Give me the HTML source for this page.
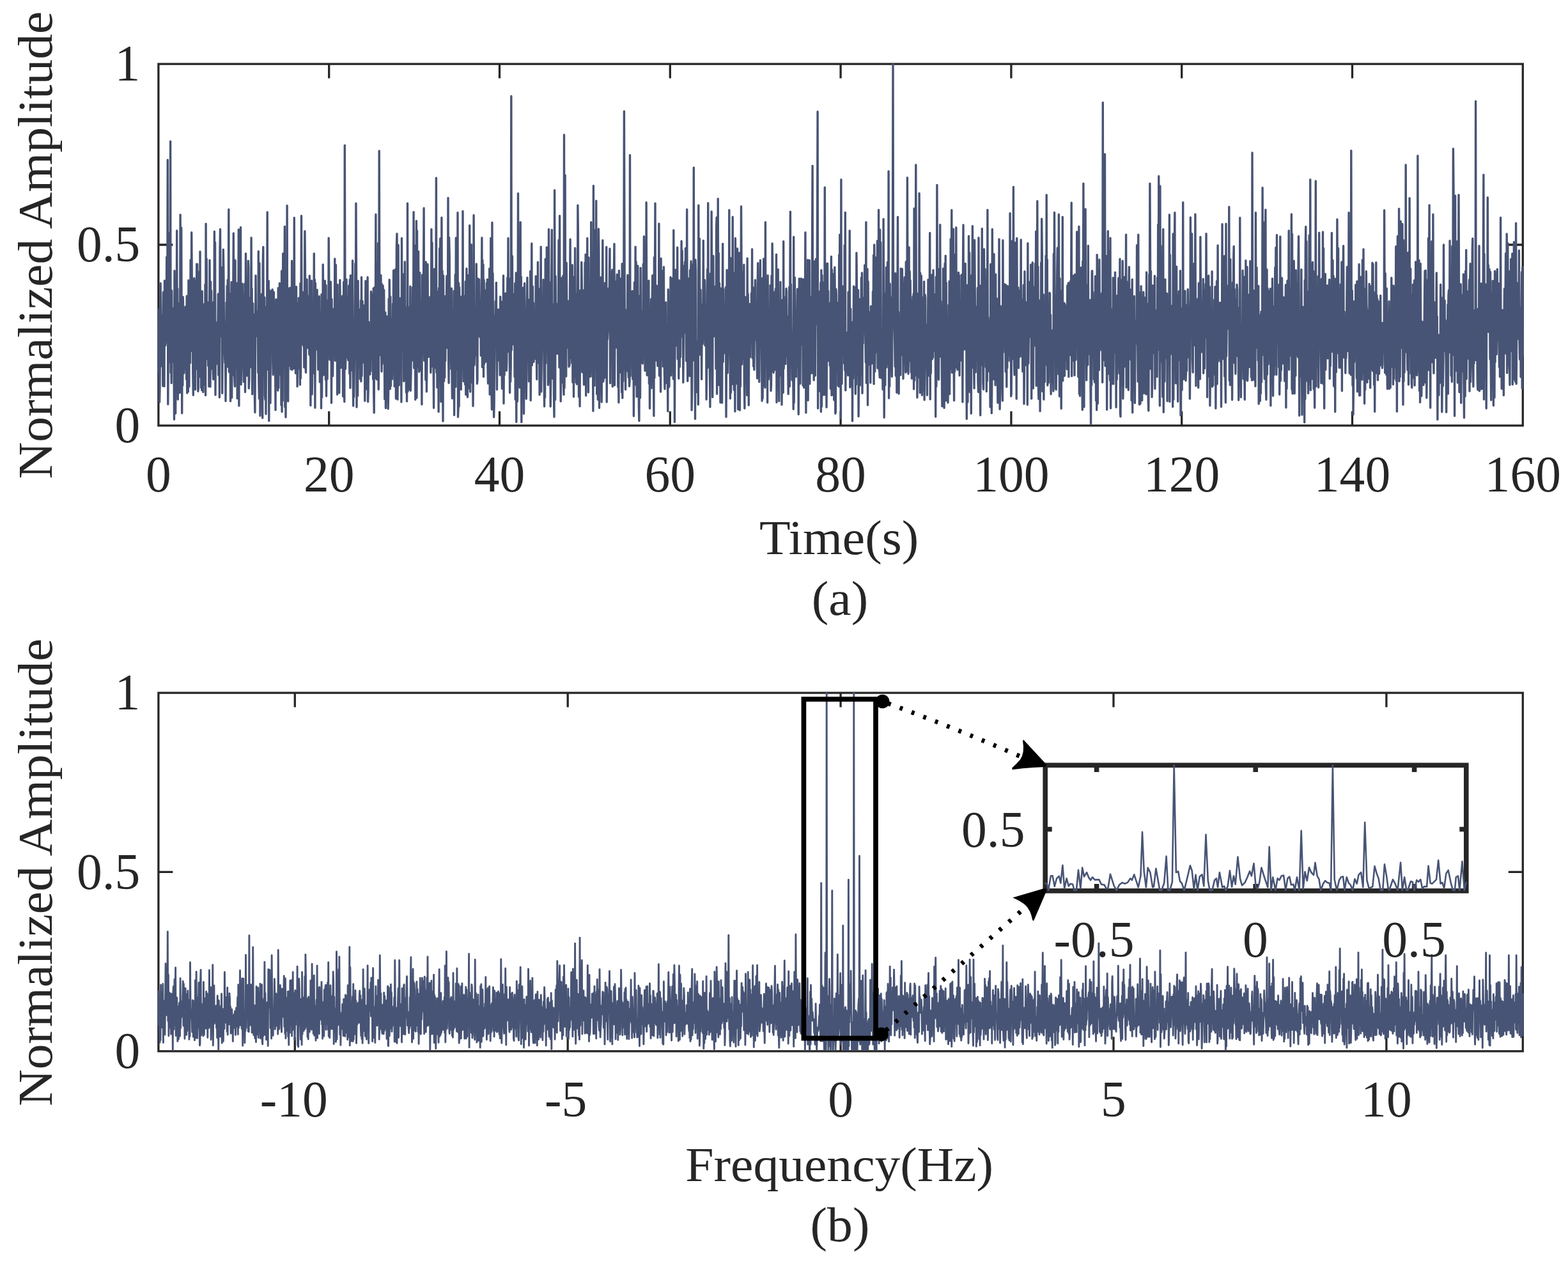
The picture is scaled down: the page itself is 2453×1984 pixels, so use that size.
<!DOCTYPE html>
<html lang="en"><head><meta charset="utf-8"><title>Normalized Amplitude: time signal and spectrum</title>
<style>html,body{margin:0;padding:0;background:#fff}body{width:2453px;height:1984px;overflow:hidden}svg{display:block}text{font-family:"Liberation Serif",serif;font-size:79.6px;fill:#262626}.ax{fill:none;stroke:#262626;stroke-width:3.3;stroke-linecap:butt}.sig{fill:none;stroke:#485475;stroke-width:3.4;stroke-linejoin:round;stroke-linecap:butt}.sb{stroke-width:2.9}.isig{fill:none;stroke:#485475;stroke-width:2.6;stroke-linejoin:round;stroke-linecap:round}.iax{fill:none;stroke:#262626;stroke-width:7.6}.m{text-anchor:middle}.e{text-anchor:end}</style></head><body>
<svg width="2453" height="1984" viewBox="0 0 2453 1984">
<rect width="2453" height="1984" fill="#fff"/>
<g id="plot-a">
<rect class="ax" x="247.9" y="100.1" width="2134.4" height="565.8"/>
<path class="ax" d="M514.7 665.9v-22.5 M514.7 100.1v22.5 M781.5 665.9v-22.5 M781.5 100.1v22.5 M1048.3 665.9v-22.5 M1048.3 100.1v22.5 M1315.1 665.9v-22.5 M1315.1 100.1v22.5 M1581.9 665.9v-22.5 M1581.9 100.1v22.5 M1848.7 665.9v-22.5 M1848.7 100.1v22.5 M2115.5 665.9v-22.5 M2115.5 100.1v22.5 M247.9 383h22.5 M2382.3 383h-22.5"/>
<polyline class="sig" points="247.9,583.5 248.4,539.7 249,483.6 249.5,629.1 250,607.2 250.6,534.5 251.1,443.3 251.6,484.7 252.2,572.9 252.7,521.6 253.2,564.7 253.8,510.6 254.3,492.5 254.8,604 255.4,457.3 255.9,576.5 256.4,464.1 257,604.4 257.5,439.1 258,467 258.6,540.8 259.1,537.7 259.6,528 260.2,501.5 260.7,402.1 261.2,506.5 261.8,468.2 262.3,250.2 262.8,632.6 263.4,545 263.9,486.5 264.4,567 265,364.7 265.5,545.9 266,563.2 266.6,221.2 267.1,583.2 267.6,532.7 268.2,599.4 268.7,454.8 269.2,566.3 269.8,559.8 270.3,482.2 270.9,509 271.4,503.9 271.9,538.3 272.5,656.2 273,423.8 273.5,577 274.1,452 274.6,646.9 275.1,580.6 275.7,507.6 276.2,537.2 276.7,360.9 277.3,583 277.8,451.4 278.3,625.1 278.9,505.5 279.4,531.6 279.9,544.4 280.5,474.7 281,614.5 281.5,571.8 282.1,336 282.6,427.6 283.1,613.7 283.7,356.1 284.2,529.2 284.7,646.5 285.3,480 285.8,603 286.3,464.8 286.9,496.6 287.4,522.5 287.9,583.9 288.5,569.7 289,483.9 289.5,522.5 290.1,480 290.6,575.5 291.1,514.1 291.7,593.8 292.2,463.3 292.7,615 293.3,593.8 293.8,481.4 294.3,612.9 294.9,438.6 295.4,481.5 295.9,605.1 296.5,465.5 297,504.4 297.5,567.9 298.1,406.6 298.6,549.6 299.1,497.2 299.7,363.7 300.2,431.1 300.7,507.5 301.3,437 301.8,583.1 302.3,618.3 302.9,451.2 303.4,517.6 303.9,435.3 304.5,487.4 305,557 305.5,609.6 306.1,439.2 306.6,530.6 307.1,559.1 307.7,413.1 308.2,577.6 308.7,413.2 309.3,503.9 309.8,612.2 310.3,608.3 310.9,425.7 311.4,489.8 311.9,589.5 312.5,523.3 313,393.7 313.5,585.2 314.1,482.5 314.6,606.5 315.2,499.5 315.7,610.5 316.2,455.7 316.8,584.2 317.3,499.9 317.8,613.6 318.4,476.3 318.9,602.2 319.4,563 320,508.9 320.5,570 321,444.9 321.6,618.5 322.1,350.1 322.6,562.3 323.2,404.9 323.7,541.5 324.2,541.7 324.8,487.5 325.3,530.5 325.8,572.4 326.4,472.9 326.9,604.8 327.4,536.5 328,407.1 328.5,511.3 329,605 329.6,440.6 330.1,552.4 330.6,454.7 331.2,577.1 331.7,511.1 332.2,473.2 332.8,493.6 333.3,583.5 333.8,593.6 334.4,539.9 334.9,532.6 335.4,362.2 336,528.5 336.5,379.3 337,617.9 337.6,511.8 338.1,570.3 338.6,549.6 339.2,510.3 339.7,568.4 340.2,503.7 340.8,525.2 341.3,459.9 341.8,587 342.4,516.6 342.9,502 343.4,621.8 344,390.7 344.5,358.6 345,439.6 345.6,526.4 346.1,418.3 346.6,492.3 347.2,477.8 347.7,615.3 348.2,539.6 348.8,537.1 349.3,390.4 349.8,421.8 350.4,502.2 350.9,505 351.4,549.8 352,567.8 352.5,538 353,627.5 353.6,545.7 354.1,473.3 354.6,514.3 355.2,447.3 355.7,573.8 356.2,437.9 356.8,514.7 357.3,498.8 357.8,327.8 358.4,582 358.9,495.9 359.5,459.5 360,524.9 360.5,627.8 361.1,606.1 361.6,488.1 362.1,441.5 362.7,622.3 363.2,463.5 363.7,449.7 364.3,582.9 364.8,456.8 365.3,365 365.9,587.2 366.4,406.4 366.9,594.7 367.5,604.6 368,407.4 368.5,576 369.1,522.9 369.6,462.5 370.1,485.6 370.7,443 371.2,623.4 371.7,478.8 372.3,553.6 372.8,487.8 373.3,359.1 373.9,634.9 374.4,467.5 374.9,551.1 375.5,422.4 376,561.2 376.5,355.8 377.1,601.6 377.6,566.1 378.1,494.7 378.7,484.2 379.2,443.9 379.7,513.4 380.3,461.2 380.8,571.3 381.3,597.4 381.9,520.7 382.4,560 382.9,443.9 383.5,613.4 384,509.8 384.5,396.8 385.1,528.3 385.6,546.9 386.1,582.4 386.7,587.9 387.2,508.6 387.7,494.4 388.3,408.1 388.8,418.2 389.3,607.6 389.9,592.9 390.4,465.7 390.9,564.4 391.5,574.7 392,477.5 392.5,524.2 393.1,371.9 393.6,556.8 394.1,451.8 394.7,616.8 395.2,520.2 395.7,474.8 396.3,584.4 396.8,573.7 397.3,491.9 397.9,523.4 398.4,620 398.9,645.3 399.5,534.6 400,431.1 400.5,502.1 401.1,494.8 401.6,487.8 402.1,510.2 402.7,526.5 403.2,499.9 403.8,583 404.3,393.2 404.8,594.6 405.4,623.6 405.9,411.7 406.4,541 407,650.5 407.5,556 408,463.1 408.6,572.5 409.1,572.5 409.6,460 410.2,607.4 410.7,654.1 411.2,416.2 411.8,386.5 412.3,509.9 412.8,504.7 413.4,586.3 413.9,465.4 414.4,618.5 415,625.2 415.5,541.2 416,647.8 416.6,532.1 417.1,480.3 417.6,518.1 418.2,331.9 418.7,578.2 419.2,469.4 419.8,575.8 420.3,439.7 420.8,658.5 421.4,510.2 421.9,495.9 422.4,482.1 423,630.5 423.5,455 424,470.5 424.6,550 425.1,550.5 425.6,498.5 426.2,453 426.7,564.4 427.2,586.4 427.8,541.8 428.3,456.9 428.8,486.5 429.4,500.8 429.9,504.4 430.4,533.2 431,641.6 431.5,524.8 432,468.5 432.6,604.1 433.1,473.5 433.6,583.8 434.2,492.2 434.7,611 435.2,450.7 435.8,607.1 436.3,526.3 436.8,564.1 437.4,443.3 437.9,585.8 438.4,487.5 439,449.7 439.5,500 440,633.9 440.6,423.9 441.1,644.3 441.6,459.7 442.2,627.1 442.7,396.8 443.2,521.3 443.8,574.7 444.3,451 444.8,502.7 445.4,354.5 445.9,636.9 446.4,505.3 447,652.7 447.5,591.2 448.1,440.1 448.6,604.8 449.1,321.7 449.7,597.3 450.2,465.5 450.7,627.9 451.3,451.1 451.8,473 452.3,572.6 452.9,469.3 453.4,516.7 453.9,450.2 454.5,532.9 455,577.7 455.5,477.9 456.1,573.3 456.6,408.3 457.1,578.5 457.7,436.8 458.2,520.7 458.7,544.5 459.3,451 459.8,576.6 460.3,340.7 460.9,565.2 461.4,500.1 461.9,484.1 462.5,584.1 463,480.8 463.5,448.6 464.1,584.2 464.6,511.7 465.1,604.7 465.7,550.8 466.2,474.6 466.7,576.8 467.3,466.1 467.8,566.1 468.3,489.3 468.9,550 469.4,602.1 469.9,443.4 470.5,591.8 471,483 471.5,337.8 472.1,523.4 472.6,477.9 473.1,538.5 473.7,487.3 474.2,457.2 474.7,541.1 475.3,481.8 475.8,574.7 476.3,498.1 476.9,361.7 477.4,414.9 477.9,572 478.5,582.9 479,504.9 479.5,534.7 480.1,437.1 480.6,500.2 481.1,544.3 481.7,470.4 482.2,542.6 482.7,500.2 483.3,462.9 483.8,555 484.3,431.4 484.9,533.1 485.4,483.1 485.9,634.4 486.5,464.7 487,555.1 487.5,439.1 488.1,616.9 488.6,585 489.1,508.9 489.7,544.4 490.2,583.6 490.7,572.3 491.3,396.8 491.8,584.3 492.3,437.4 492.9,638 493.4,443 494,535.8 494.5,537.8 495,523.8 495.6,502.4 496.1,453.4 496.6,547.8 497.2,521.4 497.7,578.2 498.2,470.8 498.8,576.7 499.3,463.6 499.8,535.4 500.4,597.8 500.9,571.9 501.4,531.5 502,493.5 502.5,638.8 503,460.8 503.6,621.7 504.1,522.8 504.6,587.9 505.2,414 505.7,457.2 506.2,582.5 506.8,540.6 507.3,586.2 507.8,523.6 508.4,439.4 508.9,512.9 509.4,594.2 510,446.5 510.5,619.8 511,542.6 511.6,470.3 512.1,593.1 512.6,483.3 513.2,514.7 513.7,554.3 514.2,372.4 514.8,434.9 515.3,547.5 515.8,562.9 516.4,500.4 516.9,551.6 517.4,440.9 518,487.9 518.5,630.4 519,468.2 519.6,574.5 520.1,511.1 520.6,588.2 521.2,532.5 521.7,483.6 522.2,509.6 522.8,537.8 523.3,552.1 523.8,404.9 524.4,564.2 524.9,461 525.4,414.4 526,506.4 526.5,466.9 527,466.9 527.6,617.3 528.1,445.5 528.6,589.6 529.2,482 529.7,508.6 530.2,495.6 530.8,614.7 531.3,528.1 531.8,438.1 532.4,488.4 532.9,485 533.4,575.4 534,540.1 534.5,538.8 535,553.7 535.6,463.3 536.1,515.1 536.6,620.2 537.2,506.8 537.7,441.3 538.3,606.7 538.8,628.5 539.3,227.4 539.9,446.8 540.4,577.2 540.9,556.1 541.5,515.9 542,437.2 542.5,559.2 543.1,464.8 543.6,509.6 544.1,491.1 544.7,563.4 545.2,546.1 545.7,446.9 546.3,492.6 546.8,584.8 547.3,437.4 547.9,607.1 548.4,430.9 548.9,574.1 549.5,535 550,540.4 550.5,445.9 551.1,579.9 551.6,407.7 552.1,574.5 552.7,635.1 553.2,501.9 553.7,621.1 554.3,570.8 554.8,524.7 555.3,499.1 555.9,412.1 556.4,498.7 556.9,318.1 557.5,425 558,637 558.5,581.2 559.1,513.9 559.6,619.3 560.1,439.5 560.7,575 561.2,550 561.7,539 562.3,568.2 562.8,483.9 563.3,592.9 563.9,584.2 564.4,469.9 564.9,596.7 565.5,433.8 566,588.3 566.5,535.7 567.1,471.3 567.6,567.1 568.1,517.3 568.7,555.9 569.2,477.9 569.7,548.9 570.3,527.7 570.8,627.3 571.3,562.4 571.9,439.7 572.4,588.2 572.9,451.3 573.5,608.7 574,439.6 574.5,591.9 575.1,433.7 575.6,628.6 576.1,611.9 576.7,503.7 577.2,519.6 577.7,533.1 578.3,566.3 578.8,585.9 579.3,525.2 579.9,581.1 580.4,456.3 580.9,508.2 581.5,560.3 582,534.9 582.6,500.6 583.1,460.1 583.6,593.2 584.2,451.2 584.7,612.9 585.2,645.8 585.8,449.6 586.3,484.6 586.8,528.9 587.4,488.5 587.9,335.5 588.4,592.1 589,410.9 589.5,593.7 590,431 590.6,446.2 591.1,591.9 591.6,380.5 592.2,609.3 592.7,536.4 593.2,236.1 593.8,471.7 594.3,539 594.8,555.5 595.4,535.9 595.9,430.8 596.4,522.6 597,581.2 597.5,444.7 598,569.6 598.6,448.8 599.1,447.1 599.6,479.8 600.2,512.1 600.7,453.7 601.2,527.4 601.8,624.4 602.3,530 602.8,489 603.4,638.6 603.9,609.9 604.4,508 605,494.9 605.5,569.3 606,596.1 606.6,544.6 607.1,639.6 607.6,616.3 608.2,467.4 608.7,600.9 609.2,437.8 609.8,478.6 610.3,608.5 610.8,464.3 611.4,603.9 611.9,498.4 612.4,567.5 613,521 613.5,593.2 614,566.1 614.6,475.2 615.1,521.3 615.6,423.2 616.2,571.2 616.7,524 617.2,604.5 617.8,549 618.3,421.6 618.8,426.5 619.4,623.8 619.9,513.6 620.4,386.3 621,365.8 621.5,448 622,625.1 622.6,534.8 623.1,383.4 623.6,570.4 624.2,602.8 624.7,521.6 625.2,549.8 625.8,466.8 626.3,561.5 626.9,470.3 627.4,491 627.9,629 628.5,372.7 629,545 629.5,509.2 630.1,467.9 630.6,533.7 631.1,429.3 631.7,596.6 632.2,460.2 632.7,578.8 633.3,409.8 633.8,594.2 634.3,481.3 634.9,538.7 635.4,614 635.9,488.6 636.5,627.9 637,588.9 637.5,318.1 638.1,612.5 638.6,482.9 639.1,480.6 639.7,512.3 640.2,608.4 640.7,518.8 641.3,609.8 641.8,448.2 642.3,611.2 642.9,586.3 643.4,535.8 643.9,488.3 644.5,537.2 645,532.2 645.5,449.8 646.1,564.1 646.6,492.7 647.1,331.7 647.7,575.9 648.2,531.4 648.7,557.8 649.3,441.9 649.8,625.3 650.3,384 650.9,506.8 651.4,345.8 651.9,622.6 652.5,361 653,574.2 653.5,518.7 654.1,519.7 654.6,393.5 655.1,540.3 655.7,581.7 656.2,537.4 656.7,426.7 657.3,579 657.8,474.2 658.3,470.6 658.9,539.8 659.4,522.1 659.9,632.8 660.5,430.1 661,501.3 661.5,543 662.1,554.9 662.6,422.1 663.1,325.8 663.7,564.3 664.2,465.7 664.7,552.1 665.3,467.3 665.8,594.3 666.3,410 666.9,480 667.4,612.7 667.9,571.9 668.5,465.8 669,413.4 669.5,505.3 670.1,548 670.6,558.2 671.2,528.3 671.7,523 672.2,542.7 672.8,464.6 673.3,507.6 673.8,583 674.4,562.1 674.9,358.6 675.4,527.6 676,379.6 676.5,499 677,573.4 677.6,456.8 678.1,568.8 678.6,638.3 679.2,422.5 679.7,420.9 680.2,538.9 680.8,575 681.3,575.4 681.8,507 682.4,278.4 682.9,582.7 683.4,472.5 684,606.2 684.5,473.9 685,547.5 685.6,455.9 686.1,644.2 686.6,450.6 687.2,520.3 687.7,388.8 688.2,596.8 688.8,373.3 689.3,421.1 689.8,628.5 690.4,592.8 690.9,340.4 691.4,502.7 692,423.9 692.5,570.1 693,659 693.6,431.2 694.1,525.7 694.6,596.4 695.2,468.7 695.7,590.7 696.2,463.6 696.8,564.7 697.3,486.1 697.8,505.9 698.4,473.1 698.9,431.9 699.4,496.2 700,544.5 700.5,495.6 701,309.6 701.6,559.3 702.1,599.3 702.6,371.6 703.2,399.7 703.7,529.2 704.2,504.1 704.8,565.3 705.3,529.9 705.8,577.6 706.4,451.2 706.9,577.6 707.4,623.2 708,503.4 708.5,551.1 709,520.1 709.6,567.7 710.1,455.1 710.6,649.6 711.2,519.8 711.7,522.9 712.2,429.7 712.8,605.2 713.3,372.3 713.8,448.3 714.4,484.9 714.9,488.3 715.5,578.4 716,332.7 716.5,652.4 717.1,634.1 717.6,442.9 718.1,636.1 718.7,449.6 719.2,532.6 719.7,485.7 720.3,584.9 720.8,464.3 721.3,609.4 721.9,503.8 722.4,505.5 722.9,480.8 723.5,574.5 724,330.4 724.5,539.6 725.1,596.8 725.6,495.1 726.1,463.1 726.7,569.6 727.2,500.6 727.7,601.8 728.3,440.5 728.8,617.5 729.3,517.6 729.9,420.2 730.4,494.9 730.9,608.2 731.5,621.3 732,484.3 732.5,430.7 733.1,578.3 733.6,470.2 734.1,607.5 734.7,352.7 735.2,513.1 735.7,613.1 736.3,485.4 736.8,598.7 737.3,382.6 737.9,580.3 738.4,531 738.9,517.5 739.5,520.7 740,635.2 740.5,564.5 741.1,336.8 741.6,473.8 742.1,571.1 742.7,538.8 743.2,510 743.7,526.2 744.3,486 744.8,556.5 745.3,412.9 745.9,536 746.4,600.2 746.9,594.3 747.5,436 748,504.1 748.5,506 749.1,518.3 749.6,437.3 750.1,511.4 750.7,527.1 751.2,527.7 751.7,473.7 752.3,556.4 752.8,489 753.3,465.2 753.9,371.9 754.4,574.5 754.9,407.1 755.5,508.6 756,414.1 756.5,589.4 757.1,437.9 757.6,569.2 758.1,453.8 758.7,562.7 759.2,494.1 759.8,566 760.3,494 760.8,536.6 761.4,442.6 761.9,491.3 762.4,437.2 763,576.7 763.5,600 764,514.2 764.6,451 765.1,599 765.6,420.5 766.2,617.2 766.7,494.7 767.2,545.4 767.8,372.7 768.3,522.6 768.8,599.2 769.4,640.8 769.9,348.3 770.4,487.5 771,427.8 771.5,515.3 772,505.9 772.6,652.6 773.1,632.6 773.6,494.4 774.2,502 774.7,518 775.2,471.3 775.8,524.8 776.3,442.2 776.8,540.8 777.4,609.5 777.9,538.9 778.4,502.4 779,564.3 779.5,484.2 780,553.6 780.6,522.7 781.1,556.7 781.6,523 782.2,587 782.7,464.3 783.2,532.9 783.8,518.6 784.3,472 784.8,519.3 785.4,608.1 785.9,602.1 786.4,484.9 787,532.2 787.5,431.3 788,631.3 788.6,502.7 789.1,586.9 789.6,486.8 790.2,561.7 790.7,458.9 791.2,564.2 791.8,533.2 792.3,579.9 792.8,565.8 793.4,482.3 793.9,434.4 794.4,533.9 795,372.7 795.5,533.5 796,550.5 796.6,505.9 797.1,537.4 797.6,614.5 798.2,435.9 798.7,597.2 799.2,571.8 799.8,150.5 800.3,547.7 800.8,484.3 801.4,400.8 801.9,494.6 802.4,475.3 803,489.8 803.5,539.1 804.1,526.9 804.6,459.9 805.1,589.6 805.7,443.3 806.2,625 806.7,488.8 807.3,426.9 807.8,660.2 808.3,478.9 808.9,443.2 809.4,628 809.9,575.2 810.5,302.7 811,517.3 811.5,536.2 812.1,514.9 812.6,591.7 813.1,606.5 813.7,433.3 814.2,347.6 814.7,591.5 815.3,433.2 815.8,660.6 816.3,524.3 816.9,541 817.4,518.3 817.9,581.7 818.5,450.3 819,533 819.5,647.2 820.1,564.1 820.6,443.2 821.1,523.1 821.7,519.7 822.2,570.8 822.7,534.1 823.3,624 823.8,583.8 824.3,480.7 824.9,434.5 825.4,513.7 825.9,492.5 826.5,526.1 827,509.7 827.5,596.8 828.1,468.6 828.6,552.8 829.1,542.2 829.7,424.4 830.2,626.5 830.7,556.9 831.3,506.7 831.8,380.9 832.3,571.5 832.9,536.3 833.4,448.1 833.9,535.6 834.5,474 835,566.3 835.5,527.5 836.1,548.6 836.6,509.8 837.1,512.7 837.7,561.4 838.2,432.3 838.7,452.1 839.3,546.5 839.8,593.6 840.3,445.9 840.9,567.9 841.4,410.1 841.9,522.3 842.5,543.8 843,484.8 843.5,455.7 844.1,617.8 844.6,451.7 845.1,517.3 845.7,488.3 846.2,386.3 846.7,612.9 847.3,560 847.8,522.9 848.4,470.2 848.9,462.9 849.4,521 850,437.8 850.5,453.2 851,575.2 851.6,635.9 852.1,474.7 852.6,621.9 853.2,405.4 853.7,568.6 854.2,431.9 854.8,552 855.3,387 855.8,492.4 856.4,438.5 856.9,451.7 857.4,602.4 858,593.8 858.5,358.6 859,528.4 859.6,477.6 860.1,533.1 860.6,442.1 861.2,636.1 861.7,595.1 862.2,503.2 862.8,431 863.3,359.6 863.8,580.3 864.4,479.5 864.9,592.6 865.4,481.7 866,476.3 866.5,620.8 867,652.3 867.6,297.6 868.1,479 868.6,625.4 869.2,432.1 869.7,542.4 870.2,474.9 870.8,490.4 871.3,541.2 871.8,553.4 872.4,534.7 872.9,510.5 873.4,487.2 874,375.6 874.5,529.2 875,574.9 875.6,337.8 876.1,564.1 876.6,479.4 877.2,627.9 877.7,537.1 878.2,599 878.8,435 879.3,562.5 879.8,498.3 880.4,566.5 880.9,431.5 881.4,601.1 882,617.5 882.5,211 883,607 883.6,484.3 884.1,274.1 884.6,560.3 885.2,442.7 885.7,588.9 886.2,411.2 886.8,480 887.3,496.4 887.8,543.8 888.4,537.3 888.9,471.2 889.4,506.8 890,573.7 890.5,490.3 891,571.7 891.6,444.7 892.1,374.5 892.6,543.3 893.2,476.7 893.7,560.6 894.3,453.1 894.8,568 895.3,414.7 895.9,598.3 896.4,457.5 896.9,455.9 897.5,620.7 898,433.5 898.5,591.1 899.1,544.4 899.6,388.1 900.1,472.4 900.7,504.3 901.2,598.4 901.7,459.9 902.3,601 902.8,467 903.3,598.4 903.9,321.2 904.4,361.7 904.9,519.3 905.5,620.9 906,581.5 906.5,538.6 907.1,635.8 907.6,454.8 908.1,578.8 908.7,538.2 909.2,525 909.7,410.3 910.3,446 910.8,582.3 911.3,581.6 911.9,454 912.4,535.8 912.9,561.6 913.5,601.9 914,511.3 914.5,564.3 915.1,410.9 915.6,539.8 916.1,398.2 916.7,619 917.2,498.9 917.7,547.9 918.3,512.8 918.8,372.7 919.3,555 919.9,530.4 920.4,613.7 920.9,403 921.5,590.1 922,509.1 922.5,495.4 923.1,565.3 923.6,450.2 924.1,589 924.7,347.6 925.2,582.6 925.7,534.8 926.3,554 926.8,418.9 927.3,509.1 927.9,643.1 928.4,290.7 928.9,600.1 929.5,444.4 930,603.4 930.5,448.8 931.1,505.8 931.6,359.7 932.1,529.4 932.7,314.3 933.2,515.8 933.7,616.6 934.3,489.8 934.8,441.3 935.3,625.3 935.9,486.7 936.4,358.3 936.9,397.1 937.5,638.2 938,466.5 938.6,568 939.1,527.8 939.6,576.1 940.2,434 940.7,591.3 941.2,629 941.8,534.4 942.3,453 942.8,376 943.4,490.7 943.9,596.9 944.4,536.1 945,592.1 945.5,469.4 946,552.3 946.6,442.7 947.1,559.4 947.6,590.5 948.2,503.5 948.7,386.5 949.2,629.1 949.8,505.6 950.3,531 950.8,520.8 951.4,451.4 951.9,508.5 952.4,458.4 953,517.3 953.5,431.1 954,389.1 954.6,599.6 955.1,493.3 955.6,458.9 956.2,535.2 956.7,425.8 957.2,489.4 957.8,422.1 958.3,604.9 958.8,590.5 959.4,506.9 959.9,567.2 960.4,428.5 961,381.7 961.5,602.8 962,513.3 962.6,496.2 963.1,474.2 963.6,440.4 964.2,543.8 964.7,464.4 965.2,429.4 965.8,496.7 966.3,507.2 966.8,605.4 967.4,463.9 967.9,629.8 968.4,423.4 969,541 969.5,582.8 970,506.9 970.6,491.6 971.1,493.8 971.6,435.7 972.2,554.1 972.7,613.9 973.2,412.6 973.8,622.8 974.3,508 974.8,596.5 975.4,516.5 975.9,405.9 976.4,174.1 977,382.7 977.5,577.7 978,484.3 978.6,609.4 979.1,518 979.6,515.5 980.2,580.6 980.7,536.8 981.2,518.3 981.8,430.5 982.3,461.4 982.9,577.5 983.4,590.6 983.9,498.2 984.5,604.3 985,596.4 985.5,242.7 986.1,588.6 986.6,542.3 987.1,535.5 987.7,550.2 988.2,457.9 988.7,502 989.3,455.4 989.8,593.3 990.3,571.4 990.9,493.7 991.4,651.1 991.9,560.4 992.5,441.8 993,544.2 993.5,562.2 994.1,386.3 994.6,602 995.1,409.5 995.7,490 996.2,620.8 996.7,489 997.3,613.4 997.8,416 998.3,547.5 998.9,480.9 999.4,635.7 999.9,658.5 1000.5,521 1001,462.6 1001.5,622.5 1002.1,419.1 1002.6,526.5 1003.1,567.2 1003.7,487.1 1004.2,565.1 1004.7,535.9 1005.3,568.9 1005.8,531.3 1006.3,413.1 1006.9,526.6 1007.4,369.9 1007.9,422.1 1008.5,516.3 1009,580.1 1009.5,511.2 1010.1,474.6 1010.6,541.5 1011.1,316.8 1011.7,473.3 1012.2,587.3 1012.7,545.4 1013.3,474.2 1013.8,499 1014.3,550.6 1014.9,439.3 1015.4,600.2 1015.9,522.3 1016.5,639 1017,534.9 1017.5,507.1 1018.1,508.6 1018.6,467.9 1019.1,607.2 1019.7,509 1020.2,468 1020.7,430.9 1021.3,566.6 1021.8,456.6 1022.3,554.5 1022.9,650.8 1023.4,402.7 1023.9,591.3 1024.5,445.6 1025,318.1 1025.5,564.2 1026.1,466 1026.6,551.5 1027.2,447 1027.7,517.3 1028.2,481.9 1028.8,572.5 1029.3,552.7 1029.8,461.9 1030.4,540.5 1030.9,349.9 1031.4,587.9 1032,460.5 1032.5,487.7 1033,531.7 1033.6,613.1 1034.1,404.5 1034.6,559.5 1035.2,440.1 1035.7,562.5 1036.2,449.3 1036.8,423.8 1037.3,573.4 1037.8,567.4 1038.4,417.6 1038.9,527.8 1039.4,580.5 1040,608.6 1040.5,507.5 1041,552.1 1041.6,473.1 1042.1,599.3 1042.6,546.7 1043.2,512.5 1043.7,511.9 1044.2,549.7 1044.8,643.4 1045.3,452.9 1045.8,535.6 1046.4,536.3 1046.9,605.2 1047.4,516.4 1048,491.3 1048.5,548.9 1049,433.7 1049.6,587.6 1050.1,569.8 1050.6,536.7 1051.2,449.4 1051.7,435.7 1052.2,533.4 1052.8,514.8 1053.3,593.1 1053.8,360.1 1054.4,571.9 1054.9,439.7 1055.4,660.3 1056,523.6 1056.5,422.3 1057,507.1 1057.6,439.3 1058.1,540.9 1058.6,538.2 1059.2,495.9 1059.7,387.3 1060.2,561.8 1060.8,556.8 1061.3,475.9 1061.8,592.3 1062.4,438.7 1062.9,489 1063.4,573.8 1064,465.9 1064.5,558.8 1065,488.9 1065.6,472.9 1066.1,377.3 1066.6,526.6 1067.2,392.3 1067.7,495.4 1068.2,415.4 1068.8,598.4 1069.3,552.4 1069.8,485.5 1070.4,453.1 1070.9,520.6 1071.5,409.6 1072,491.4 1072.5,388.4 1073.1,479.8 1073.6,564.8 1074.1,537.7 1074.7,327.8 1075.2,539.6 1075.7,596.3 1076.3,513.1 1076.8,435.8 1077.3,571 1077.9,546.4 1078.4,531.6 1078.9,588.3 1079.5,422.7 1080,577.4 1080.5,429.8 1081.1,408.8 1081.6,508.9 1082.1,641.7 1082.7,609.1 1083.2,414.5 1083.7,538.9 1084.3,514.4 1084.8,536.3 1085.3,262.2 1085.9,563.9 1086.4,427.4 1086.9,441.3 1087.5,655.4 1088,406.4 1088.5,424.5 1089.1,596.3 1089.6,536.9 1090.1,613.6 1090.7,588.6 1091.2,534.4 1091.7,582.1 1092.3,633.1 1092.8,321.2 1093.3,511 1093.9,496.7 1094.4,373.5 1094.9,512.9 1095.5,555 1096,453.4 1096.5,525.7 1097.1,509.1 1097.6,593.4 1098.1,512.3 1098.7,476.5 1099.2,538.1 1099.7,522 1100.3,376.5 1100.8,531.9 1101.3,485 1101.9,484.7 1102.4,438.1 1102.9,540.5 1103.5,516.5 1104,541.1 1104.5,484 1105.1,625.1 1105.6,579.8 1106.1,458.9 1106.7,421.3 1107.2,575.2 1107.7,317.6 1108.3,517.2 1108.8,549.8 1109.3,569 1109.9,522.5 1110.4,584.2 1110.9,636.8 1111.5,427.9 1112,485.5 1112.5,557.8 1113.1,330.9 1113.6,435.1 1114.1,507.5 1114.7,621.4 1115.2,455.2 1115.8,400.4 1116.3,526.8 1116.8,484.2 1117.4,507.3 1117.9,499.2 1118.4,448.4 1119,513.5 1119.5,468.6 1120,576.9 1120.6,357 1121.1,340.3 1121.6,616.2 1122.2,461.6 1122.7,580.9 1123.2,310.9 1123.8,540.1 1124.3,396.3 1124.8,602.5 1125.4,442.9 1125.9,560.5 1126.4,472.8 1127,629.8 1127.5,451.2 1128,545.2 1128.6,492.7 1129.1,572.5 1129.6,630.2 1130.2,481.5 1130.7,381.4 1131.2,566.3 1131.8,452.1 1132.3,553.3 1132.8,533.1 1133.4,542 1133.9,530.9 1134.4,478.6 1135,550.1 1135.5,449.4 1136,652.2 1136.6,538.7 1137.1,422.5 1137.6,564.3 1138.2,583.5 1138.7,544.3 1139.2,525.9 1139.8,459.3 1140.3,525.6 1140.8,328.6 1141.4,526.5 1141.9,538.3 1142.4,623.6 1143,403.7 1143.5,614.2 1144,476.8 1144.6,458 1145.1,601.2 1145.6,528.7 1146.2,339.4 1146.7,590.4 1147.2,426.8 1147.8,445.4 1148.3,610.2 1148.8,453.2 1149.4,540.8 1149.9,643.7 1150.4,372.7 1151,496.8 1151.5,465 1152,500.3 1152.6,600.2 1153.1,557.6 1153.6,388.9 1154.2,542.8 1154.7,640.5 1155.2,612.2 1155.8,498.3 1156.3,598 1156.8,395.6 1157.4,641.7 1157.9,469.7 1158.4,604.8 1159,476.3 1159.5,323 1160.1,422.3 1160.6,570 1161.1,424.9 1161.7,509.9 1162.2,552.4 1162.7,471.7 1163.3,561.8 1163.8,414.3 1164.3,596.9 1164.9,639.1 1165.4,467.4 1165.9,599.8 1166.5,464.9 1167,472.1 1167.5,509.9 1168.1,556.3 1168.6,618.4 1169.1,404.1 1169.7,540.5 1170.2,460.3 1170.7,526 1171.3,634 1171.8,514.5 1172.3,501.6 1172.9,475.6 1173.4,558.7 1173.9,505.9 1174.5,487.1 1175,522.1 1175.5,458.8 1176.1,513.9 1176.6,389.9 1177.1,560.3 1177.7,522.9 1178.2,479.5 1178.7,573.2 1179.3,450.1 1179.8,578.6 1180.3,503.7 1180.9,495.4 1181.4,438.1 1181.9,524.2 1182.5,525.6 1183,531.9 1183.5,480.2 1184.1,556.6 1184.6,592.1 1185.1,449.7 1185.7,411.6 1186.2,504.7 1186.7,454 1187.3,471 1187.8,597.6 1188.3,529.5 1188.9,486.7 1189.4,407.3 1189.9,504.1 1190.5,436 1191,489.9 1191.5,524.1 1192.1,627.2 1192.6,435.5 1193.1,623.5 1193.7,523.5 1194.2,603.3 1194.7,404.9 1195.3,571.8 1195.8,459.6 1196.3,561.9 1196.9,606.4 1197.4,347.6 1197.9,543.4 1198.5,466.8 1199,494.3 1199.5,576.1 1200.1,442.9 1200.6,629.9 1201.1,430.9 1201.7,577.5 1202.2,593.6 1202.7,501.7 1203.3,481.8 1203.8,578.4 1204.4,588.1 1204.9,446.4 1205.4,505 1206,611.4 1206.5,601.5 1207,431.5 1207.6,580.4 1208.1,380.9 1208.6,412.8 1209.2,554.5 1209.7,523.5 1210.2,583 1210.8,481 1211.3,457.3 1211.8,578.8 1212.4,494.3 1212.9,570.9 1213.4,452 1214,548 1214.5,398.1 1215,629.6 1215.6,569.4 1216.1,504.6 1216.6,549.6 1217.2,421.5 1217.7,576.5 1218.2,539.1 1218.8,627.5 1219.3,521.1 1219.8,534.6 1220.4,587.6 1220.9,441.2 1221.4,579.6 1222,484.5 1222.5,504.4 1223,633.2 1223.6,569.4 1224.1,469.4 1224.6,609.6 1225.2,614.2 1225.7,377.8 1226.2,576.5 1226.8,464.8 1227.3,493.5 1227.8,537.7 1228.4,502 1228.9,569.6 1229.4,509.2 1230,451.5 1230.5,455.7 1231,557.1 1231.6,543.7 1232.1,495.2 1232.6,561.9 1233.2,616.6 1233.7,548.3 1234.2,525.4 1234.8,449.1 1235.3,604.7 1235.8,461.3 1236.4,331.2 1236.9,561 1237.4,444.8 1238,528.3 1238.5,529.2 1239,594.8 1239.6,519.9 1240.1,529.3 1240.6,560.9 1241.2,640.3 1241.7,370.6 1242.2,629.9 1242.8,521.4 1243.3,434.2 1243.8,465.5 1244.4,581.4 1244.9,487.6 1245.4,589.5 1246,483.8 1246.5,526.5 1247,541.6 1247.6,452.1 1248.1,573.5 1248.7,452.5 1249.2,648.2 1249.7,542.5 1250.3,435.9 1250.8,479.4 1251.3,546.1 1251.9,600.3 1252.4,509.4 1252.9,472.9 1253.5,436 1254,539.3 1254.5,491.3 1255.1,519.7 1255.6,438.5 1256.1,603 1256.7,437 1257.2,579.5 1257.7,606.4 1258.3,540.1 1258.8,578 1259.3,499.6 1259.9,363.7 1260.4,525.5 1260.9,645.7 1261.5,466.5 1262,606.1 1262.5,444.8 1263.1,593 1263.6,406.6 1264.1,626.4 1264.7,495.7 1265.2,521.8 1265.7,568.4 1266.3,407.3 1266.8,600.5 1267.3,546.4 1267.9,547.6 1268.4,464.8 1268.9,558 1269.5,479.8 1270,583.9 1270.5,394.6 1271.1,259.4 1271.6,556.8 1272.1,581.1 1272.7,538.2 1273.2,594.7 1273.7,450.2 1274.3,409 1274.8,503.7 1275.3,587.8 1275.9,483.3 1276.4,405.5 1276.9,498.5 1277.5,479.1 1278,507.1 1278.5,348.2 1279.1,174.8 1279.6,639.1 1280.1,518 1280.7,547.3 1281.2,480.3 1281.7,576 1282.3,611.9 1282.8,455.5 1283.3,579.4 1283.9,442.3 1284.4,644.3 1284.9,422.6 1285.5,635.9 1286,431 1286.5,618.7 1287.1,591.2 1287.6,518.2 1288.1,589.7 1288.7,441.9 1289.2,503.4 1289.7,617.8 1290.3,293.2 1290.8,515.1 1291.3,412 1291.9,532.6 1292.4,524.1 1293,637.2 1293.5,561.8 1294,448.9 1294.6,412.3 1295.1,557.9 1295.6,455.3 1296.2,564.6 1296.7,522.2 1297.2,555.1 1297.8,477.4 1298.3,572.2 1298.8,474 1299.4,608.3 1299.9,472.8 1300.4,401.4 1301,618.6 1301.5,421.9 1302,571.3 1302.6,617.6 1303.1,492.6 1303.6,429 1304.2,447.1 1304.7,625.7 1305.2,612.9 1305.8,418.1 1306.3,467.5 1306.8,647 1307.4,644.4 1307.9,452.4 1308.4,461.9 1309,559.4 1309.5,574.2 1310,546.5 1310.6,474 1311.1,603.5 1311.6,478.1 1312.2,604.7 1312.7,398.8 1313.2,499.4 1313.8,367.1 1314.3,526.7 1314.8,568.7 1315.4,654.3 1315.9,280.9 1316.4,592.3 1317,600.4 1317.5,487.2 1318,448 1318.6,532.6 1319.1,454.5 1319.6,546.6 1320.2,468.7 1320.7,568.8 1321.2,383.7 1321.8,579.2 1322.3,332.5 1322.8,610.7 1323.4,520.7 1323.9,576.8 1324.4,557.4 1325,546.9 1325.5,520.1 1326,573.2 1326.6,587.4 1327.1,457 1327.6,547.7 1328.2,527.7 1328.7,538.1 1329.2,360.9 1329.8,606.1 1330.3,537.7 1330.8,483.2 1331.4,602.7 1331.9,522.8 1332.4,546.8 1333,504.3 1333.5,658.8 1334,536.4 1334.6,592.3 1335.1,518.2 1335.6,447.9 1336.2,547.2 1336.7,471.5 1337.2,563.3 1337.8,546.3 1338.3,616.3 1338.9,449 1339.4,601.6 1339.9,395.8 1340.5,455.1 1341,587.7 1341.5,483 1342.1,565.9 1342.6,454 1343.1,651.5 1343.7,579.2 1344.2,468 1344.7,473.1 1345.3,603 1345.8,516.7 1346.3,497.1 1346.9,573 1347.4,434.5 1347.9,586.9 1348.5,427 1349,615.3 1349.5,472.5 1350.1,537.6 1350.6,466.1 1351.1,472.9 1351.7,520.9 1352.2,503.2 1352.7,415 1353.3,504.4 1353.8,526.6 1354.3,567 1354.9,347.8 1355.4,599.2 1355.9,461.8 1356.5,565.5 1357,421 1357.5,633.8 1358.1,440.5 1358.6,570.7 1359.1,554 1359.7,504.4 1360.2,488.7 1360.7,566.8 1361.3,494.1 1361.8,598.9 1362.3,479.3 1362.9,564.9 1363.4,540.7 1363.9,568.8 1364.5,496.1 1365,563.9 1365.5,456.2 1366.1,485.4 1366.6,399.2 1367.1,600.7 1367.7,382.9 1368.2,434.5 1368.7,581.3 1369.3,529.9 1369.8,508.3 1370.3,550.7 1370.9,402.6 1371.4,549.1 1371.9,527.9 1372.5,377 1373,576.1 1373.5,397.7 1374.1,576.4 1374.6,328.4 1375.1,513.9 1375.7,579.4 1376.2,590.6 1376.7,359.4 1377.3,549.9 1377.8,379.3 1378.3,530.7 1378.9,591.8 1379.4,579.4 1379.9,519.5 1380.5,522.1 1381,609.2 1381.5,597.4 1382.1,342.7 1382.6,481.5 1383.2,653.2 1383.7,546.1 1384.2,472.3 1384.8,602.7 1385.3,459.1 1385.8,552.9 1386.4,418.4 1386.9,574.7 1387.4,557.4 1388,495.4 1388.5,410.1 1389,535.3 1389.6,568.8 1390.1,267.9 1390.6,623.1 1391.2,461.3 1391.7,604.6 1392.2,443.9 1392.8,561.4 1393.3,465.2 1393.8,527.5 1394.4,534.1 1394.9,568.4 1395.4,589.3 1396,496.3 1396.5,374.8 1397,100.1 1397.6,510.3 1398.1,444.4 1398.6,451.9 1399.2,509.9 1399.7,531.7 1400.2,573.6 1400.8,427.6 1401.3,588 1401.8,440.9 1402.4,452.9 1402.9,614.3 1403.4,506.4 1404,458.4 1404.5,339.4 1405,538.6 1405.6,488.1 1406.1,616 1406.6,538.9 1407.2,500 1407.7,586 1408.2,534.6 1408.8,586.7 1409.3,420.1 1409.8,494.6 1410.4,530.6 1410.9,555.6 1411.4,421 1412,499.2 1412.5,474.8 1413,592.6 1413.6,492.4 1414.1,524.7 1414.6,457.2 1415.2,434 1415.7,489.4 1416.2,546.7 1416.8,582.8 1417.3,409.8 1417.8,581.1 1418.4,476 1418.9,514.8 1419.4,277.9 1420,457.3 1420.5,497.4 1421,584.9 1421.6,529.4 1422.1,386.9 1422.6,564.8 1423.2,424.8 1423.7,544.1 1424.2,438.7 1424.8,550.9 1425.3,582.4 1425.8,528.5 1426.4,592.2 1426.9,469.8 1427.5,563 1428,464 1428.5,535.8 1429.1,459.8 1429.6,608.8 1430.1,326.2 1430.7,595.3 1431.2,435.5 1431.7,502.1 1432.3,481.8 1432.8,257.9 1433.3,456.7 1433.9,587.9 1434.4,458.6 1434.9,622.1 1435.5,510.9 1436,486 1436.5,530.1 1437.1,543.6 1437.6,590.6 1438.1,302.5 1438.7,472.6 1439.2,614.5 1439.7,427.1 1440.3,504.6 1440.8,537.5 1441.3,431.4 1441.9,515.4 1442.4,618.3 1442.9,465.3 1443.5,610.9 1444,506.1 1444.5,535 1445.1,575.8 1445.6,440.8 1446.1,625.8 1446.7,576.6 1447.2,461.3 1447.7,466.8 1448.3,567.9 1448.8,513 1449.3,530.6 1449.9,540.3 1450.4,618.2 1450.9,507.6 1451.5,539.6 1452,437.7 1452.5,574.9 1453.1,479.1 1453.6,588 1454.1,473.5 1454.7,364.5 1455.2,624.7 1455.7,501.8 1456.3,584.2 1456.8,489.2 1457.3,430.3 1457.9,533.9 1458.4,561.9 1458.9,450.1 1459.5,559.3 1460,422.7 1460.5,542.1 1461.1,533.1 1461.6,549.1 1462.1,461 1462.7,488.6 1463.2,484.2 1463.7,652 1464.3,433.3 1464.8,604.8 1465.3,574.1 1465.9,289.4 1466.4,449.7 1466.9,580.8 1467.5,450.2 1468,482 1468.5,594.1 1469.1,455 1469.6,420.5 1470.1,558.3 1470.7,351.7 1471.2,485.1 1471.8,471.3 1472.3,522.8 1472.8,510.1 1473.4,582.8 1473.9,635.7 1474.4,487.4 1475,581.4 1475.5,420.1 1476,500.1 1476.6,493 1477.1,638.2 1477.6,539.3 1478.2,411.9 1478.7,598.1 1479.2,400.1 1479.8,626.7 1480.3,442.4 1480.8,600.4 1481.4,509.3 1481.9,534.9 1482.4,525.8 1483,630 1483.5,567.7 1484,477.2 1484.6,598.4 1485.1,440.1 1485.6,616.6 1486.2,475.6 1486.7,577.2 1487.2,373.9 1487.8,567.8 1488.3,423.4 1488.8,328.6 1489.4,583 1489.9,384.8 1490.4,497.3 1491,561.1 1491.5,358.5 1492,558.2 1492.6,626.7 1493.1,398.1 1493.6,581.3 1494.2,554.6 1494.7,464.6 1495.2,575.1 1495.8,356 1496.3,504.6 1496.8,447.5 1497.4,507.9 1497.9,578.6 1498.4,435.2 1499,564.1 1499.5,426.5 1500,577.3 1500.6,430.7 1501.1,587.5 1501.6,490.8 1502.2,526.3 1502.7,558.8 1503.2,471.9 1503.8,564.1 1504.3,429.9 1504.8,553.8 1505.4,471.1 1505.9,629.1 1506.4,427.8 1507,351.9 1507.5,521.4 1508,434.4 1508.6,546.8 1509.1,423 1509.6,542 1510.2,412.4 1510.7,518.5 1511.2,529.5 1511.8,537.8 1512.3,655.4 1512.8,446.1 1513.4,617.9 1513.9,629.2 1514.4,503.8 1515,610.1 1515.5,369.4 1516.1,550.7 1516.6,395.5 1517.1,613.2 1517.7,551.8 1518.2,472.8 1518.7,431.2 1519.3,647 1519.8,447.4 1520.3,575.8 1520.9,456.8 1521.4,353.7 1521.9,436.5 1522.5,506.8 1523,506.5 1523.5,574.9 1524.1,607.5 1524.6,375.6 1525.1,441.1 1525.7,520.2 1526.2,582.4 1526.7,522.2 1527.3,480.6 1527.8,532.4 1528.3,506.9 1528.9,522.9 1529.4,450.5 1529.9,597.2 1530.5,613.2 1531,371.9 1531.5,579.1 1532.1,573.3 1532.6,446.6 1533.1,583.9 1533.7,649.8 1534.2,499.1 1534.7,476 1535.3,568.3 1535.8,475.7 1536.3,357.6 1536.9,571.3 1537.4,454.4 1537.9,599.4 1538.5,609.2 1539,508 1539.5,390 1540.1,494.2 1540.6,445.1 1541.1,421.2 1541.7,513.1 1542.2,574.3 1542.7,438.5 1543.3,612.5 1543.8,522.2 1544.3,596.2 1544.9,328.4 1545.4,563.7 1545.9,496.6 1546.5,539.9 1547,581 1547.5,513.2 1548.1,566.6 1548.6,503.9 1549.1,636.8 1549.7,413.5 1550.2,629 1550.7,487.8 1551.3,646.5 1551.8,598.4 1552.3,358.6 1552.9,475.6 1553.4,587.2 1553.9,531.4 1554.5,593.5 1555,397.4 1555.5,549.8 1556.1,554 1556.6,485.5 1557.1,602.7 1557.7,429.1 1558.2,559.9 1558.7,472.4 1559.3,595.2 1559.8,467.4 1560.4,581.3 1560.9,630.2 1561.4,536 1562,557 1562.5,544.5 1563,374.2 1563.6,499.5 1564.1,640.3 1564.6,614.5 1565.2,479 1565.7,484.4 1566.2,564.8 1566.8,606.8 1567.3,543.5 1567.8,591.4 1568.4,627 1568.9,376 1569.4,497.6 1570,515.4 1570.5,544.3 1571,538.6 1571.6,444.8 1572.1,551.3 1572.6,454.1 1573.2,581.8 1573.7,446 1574.2,496.3 1574.8,605.3 1575.3,481 1575.8,575.7 1576.4,447.8 1576.9,564.8 1577.4,527.1 1578,528.6 1578.5,556.2 1579,555.7 1579.6,495.1 1580.1,333.7 1580.6,565.1 1581.2,463.8 1581.7,620 1582.2,615.9 1582.8,479.9 1583.3,377.3 1583.8,539.3 1584.4,561.4 1584.9,507 1585.4,292.5 1586,531.6 1586.5,562.2 1587,586.5 1587.6,545.5 1588.1,379.8 1588.6,522.8 1589.2,387 1589.7,445.5 1590.2,624 1590.8,372.7 1591.3,497.8 1591.8,478 1592.4,567 1592.9,450 1593.4,575.7 1594,506.9 1594.5,480.8 1595,536.3 1595.6,454.6 1596.1,558 1596.6,519.6 1597.2,375.3 1597.7,551 1598.2,468.5 1598.8,531 1599.3,511.3 1599.8,581.2 1600.4,483.4 1600.9,496.8 1601.4,445.9 1602,631.9 1602.5,567.6 1603,424.6 1603.6,505.7 1604.1,556 1604.7,472.8 1605.2,571.3 1605.7,545.9 1606.3,494.7 1606.8,518.2 1607.3,633.3 1607.9,380.6 1608.4,562.3 1608.9,568.9 1609.5,511 1610,441.3 1610.5,508 1611.1,448.2 1611.6,478.8 1612.1,527.3 1612.7,414.1 1613.2,514.4 1613.7,623.8 1614.3,454.8 1614.8,605.4 1615.3,410.8 1615.9,585.4 1616.4,607.6 1616.9,477.4 1617.5,449.3 1618,505.8 1618.5,448.6 1619.1,503.9 1619.6,412.1 1620.1,541.5 1620.7,362.1 1621.2,603.6 1621.7,441.6 1622.3,552.3 1622.8,314.8 1623.3,551.1 1623.9,417.2 1624.4,605.5 1624.9,624.3 1625.5,546.7 1626,470.1 1626.5,514.6 1627.1,643.3 1627.6,535.1 1628.1,564.6 1628.7,411 1629.2,553.9 1629.7,342.4 1630.3,397.8 1630.8,612.4 1631.3,462.2 1631.9,606.7 1632.4,461 1632.9,625.1 1633.5,524.4 1634,502.6 1634.5,597.5 1635.1,493.1 1635.6,571 1636.1,400.2 1636.7,569.2 1637.2,305 1637.7,505.7 1638.3,406.2 1638.8,603 1639.3,517.1 1639.9,549.6 1640.4,598.8 1640.9,545.7 1641.5,538.6 1642,458.2 1642.5,459.4 1643.1,574.1 1643.6,492.8 1644.1,616.7 1644.7,535.1 1645.2,583.3 1645.7,537.8 1646.3,526.3 1646.8,516.7 1647.3,574.4 1647.9,612 1648.4,396.9 1649,530.8 1649.5,332.5 1650,458.4 1650.6,538.6 1651.1,481.2 1651.6,608.3 1652.2,609.5 1652.7,532.9 1653.2,498.9 1653.8,424.5 1654.3,388 1654.8,547.4 1655.4,444.2 1655.9,585.4 1656.4,335.5 1657,512.8 1657.5,620 1658,435.7 1658.6,576.2 1659.1,566.1 1659.6,459.3 1660.2,639.2 1660.7,533.1 1661.2,455 1661.8,533.9 1662.3,339.4 1662.8,595.7 1663.4,480.9 1663.9,510.5 1664.4,561.6 1665,474.3 1665.5,588.1 1666,476 1666.6,563.7 1667.1,520 1667.6,559.9 1668.2,510 1668.7,479.2 1669.2,577.8 1669.8,446.7 1670.3,494.2 1670.8,512.8 1671.4,442.6 1671.9,589.5 1672.4,452.7 1673,494.9 1673.5,531.9 1674,530.8 1674.6,439.9 1675.1,555.7 1675.6,455.8 1676.2,317.3 1676.7,588.6 1677.2,492.5 1677.8,469.3 1678.3,564.6 1678.8,507.2 1679.4,431.5 1679.9,554.2 1680.4,470.1 1681,587.3 1681.5,429.4 1682,561 1682.6,523.3 1683.1,563 1683.6,500.1 1684.2,470.3 1684.7,362.7 1685.2,517.1 1685.8,453 1686.3,423.2 1686.8,589.6 1687.4,561.2 1687.9,354.5 1688.4,616.2 1689,484.7 1689.5,619.6 1690,444.8 1690.6,564.7 1691.1,418.6 1691.6,602 1692.2,459.7 1692.7,576.9 1693.3,641.3 1693.8,408.6 1694.3,549.8 1694.9,287.3 1695.4,582.1 1695.9,636.8 1696.5,384.6 1697,464.5 1697.5,558.2 1698.1,327.1 1698.6,550.9 1699.1,480.5 1699.7,594.9 1700.2,544.3 1700.7,445.9 1701.3,488.5 1701.8,571 1702.3,384.5 1702.9,554.3 1703.4,503.9 1703.9,553.9 1704.5,524 1705,522.4 1705.5,469.4 1706.1,611.7 1706.6,663.1 1707.1,516 1707.7,602.4 1708.2,424.5 1708.7,423.9 1709.3,516.8 1709.8,457 1710.3,500 1710.9,483.4 1711.4,593.6 1711.9,477.5 1712.5,598 1713,540.2 1713.5,432.3 1714.1,523 1714.6,626.7 1715.1,457.1 1715.7,641.6 1716.2,398.6 1716.7,451.8 1717.3,631.5 1717.8,439.6 1718.3,549.2 1718.9,491.2 1719.4,578.9 1719.9,406.3 1720.5,537.3 1721,547.9 1721.5,489 1722.1,497.7 1722.6,521.3 1723.1,468.1 1723.7,458.7 1724.2,514.1 1724.7,598.3 1725.3,160.5 1725.8,531.3 1726.3,546 1726.9,383.7 1727.4,563.4 1727.9,548.2 1728.5,241.2 1729,572.5 1729.5,480.6 1730.1,570.5 1730.6,400.8 1731.1,470.5 1731.7,641 1732.2,466.6 1732.7,550.7 1733.3,361.7 1733.8,584.7 1734.3,530.6 1734.9,481.9 1735.4,393.2 1735.9,563.9 1736.5,595.2 1737,372.4 1737.6,638.8 1738.1,541.7 1738.6,601.1 1739.2,484.5 1739.7,531.3 1740.2,490.9 1740.8,564.8 1741.3,434.6 1741.8,600.7 1742.4,532.3 1742.9,494.2 1743.4,470.4 1744,551.1 1744.5,426.1 1745,503 1745.6,482.2 1746.1,637.2 1746.6,472.6 1747.2,594.1 1747.7,539.8 1748.2,462.1 1748.8,477.2 1749.3,496.1 1749.8,435.3 1750.4,521 1750.9,584.2 1751.4,485.3 1752,405.2 1752.5,647.4 1753,651.7 1753.6,490 1754.1,476.7 1754.6,438 1755.2,603.3 1755.7,532.7 1756.2,408.3 1756.8,623.7 1757.3,600.2 1757.8,478.1 1758.4,461.7 1758.9,573.7 1759.4,433.5 1760,547.6 1760.5,486.5 1761,505.6 1761.6,367.1 1762.1,606.3 1762.6,440.4 1763.2,518.3 1763.7,507.4 1764.2,578.4 1764.8,482.6 1765.3,610.3 1765.8,460.7 1766.4,417.7 1766.9,562.5 1767.4,453.7 1768,492.3 1768.5,453.3 1769,501.1 1769.6,474 1770.1,626.6 1770.6,501.5 1771.2,437.1 1771.7,645.5 1772.2,491.3 1772.8,553.1 1773.3,542.2 1773.8,566.2 1774.4,463.4 1774.9,568.6 1775.4,630.6 1776,542.4 1776.5,510.2 1777,503.3 1777.6,537.5 1778.1,510.6 1778.6,383.6 1779.2,527.6 1779.7,532.9 1780.2,597.1 1780.8,367.3 1781.3,582.6 1781.8,546.2 1782.4,632.9 1782.9,535.4 1783.5,457.6 1784,631.7 1784.5,566.8 1785.1,447.6 1785.6,504.4 1786.1,489.3 1786.7,626.6 1787.2,493.8 1787.7,502.4 1788.3,506.3 1788.8,457 1789.3,522.7 1789.9,615.4 1790.4,500.4 1790.9,546.9 1791.5,465.8 1792,600 1792.5,496.9 1793.1,616.9 1793.6,425.9 1794.1,591.5 1794.7,475.2 1795.2,583 1795.7,531 1796.3,629.3 1796.8,642.6 1797.3,537.9 1797.9,428.9 1798.4,493.8 1798.9,287.1 1799.5,402.8 1800,577 1800.5,424.3 1801.1,571.8 1801.6,482.5 1802.1,621.2 1802.7,590.6 1803.2,501 1803.7,446.6 1804.3,542.9 1804.8,551 1805.3,500.1 1805.9,552.9 1806.4,431.8 1806.9,608.3 1807.5,532 1808,546.5 1808.5,513.8 1809.1,511.2 1809.6,485.4 1810.1,589.5 1810.7,434.3 1811.2,547.3 1811.7,351.3 1812.3,514.7 1812.8,275.8 1813.3,499.8 1813.9,506.7 1814.4,634.7 1814.9,291.3 1815.5,525.8 1816,384.4 1816.5,481.1 1817.1,566.1 1817.6,546.7 1818.1,558.1 1818.7,621.1 1819.2,465.3 1819.7,358.6 1820.3,645.1 1820.8,453.4 1821.3,585.2 1821.9,597 1822.4,526.5 1822.9,437.1 1823.5,560.2 1824,530.2 1824.5,504 1825.1,461 1825.6,459.3 1826.1,627.6 1826.7,476.8 1827.2,565.5 1827.8,512.5 1828.3,510.7 1828.8,570.8 1829.4,336 1829.9,628.5 1830.4,398.7 1831,554.5 1831.5,515.3 1832,506.2 1832.6,478.8 1833.1,500 1833.6,526.1 1834.2,488.9 1834.7,636.4 1835.2,365.9 1835.8,625.2 1836.3,510.1 1836.8,562.7 1837.4,382.2 1837.9,332.7 1838.4,563.9 1839,466.3 1839.5,599.7 1840,509.8 1840.6,417.2 1841.1,578.2 1841.6,471.7 1842.2,558.9 1842.7,628.3 1843.2,507.1 1843.8,475 1844.3,455.8 1844.8,538.9 1845.4,471.7 1845.9,563.6 1846.4,423.8 1847,649.9 1847.5,644.3 1848,482.8 1848.6,520.2 1849.1,610.3 1849.6,525.3 1850.2,557 1850.7,316.8 1851.2,565.9 1851.8,593.3 1852.3,469.3 1852.8,499.8 1853.4,538.7 1853.9,455.3 1854.4,544.4 1855,595.5 1855.5,584.3 1856,530.8 1856.6,580.3 1857.1,476.9 1857.6,559.4 1858.2,452.6 1858.7,483.1 1859.2,558.4 1859.8,512.1 1860.3,540.1 1860.8,544.5 1861.4,623.9 1861.9,562 1862.4,340.1 1863,479.7 1863.5,512.7 1864,507.3 1864.6,365.6 1865.1,471.3 1865.6,563.2 1866.2,582.6 1866.7,441.2 1867.2,531.8 1867.8,470.4 1868.3,412.3 1868.8,540.2 1869.4,494.4 1869.9,335.3 1870.4,492.4 1871,603.8 1871.5,523 1872.1,470.6 1872.6,579.7 1873.1,584.4 1873.7,467.6 1874.2,539.4 1874.7,606.5 1875.3,443 1875.8,584.5 1876.3,459.8 1876.9,526.6 1877.4,593 1877.9,370.6 1878.5,465 1879,512.8 1879.5,488.5 1880.1,550.7 1880.6,535.2 1881.1,523.4 1881.7,528.6 1882.2,436.5 1882.7,584 1883.3,496.9 1883.8,453.4 1884.3,576.6 1884.9,482.2 1885.4,528.1 1885.9,444.5 1886.5,527.8 1887,365.8 1887.5,487.7 1888.1,467.8 1888.6,621.4 1889.1,519.1 1889.7,563.8 1890.2,502.2 1890.7,431.3 1891.3,503.9 1891.8,589.4 1892.3,448.6 1892.9,634.7 1893.4,587.5 1893.9,486.5 1894.5,506.5 1895,505.9 1895.5,548.9 1896.1,424.7 1896.6,605 1897.1,500.1 1897.7,602.9 1898.2,516.4 1898.7,561.5 1899.3,544.6 1899.8,468.9 1900.3,586 1900.9,448.7 1901.4,489.2 1901.9,639 1902.5,510.7 1903,582 1903.5,440 1904.1,600.7 1904.6,515.9 1905.1,384 1905.7,565.2 1906.2,553.9 1906.7,536.5 1907.3,524.1 1907.8,545.1 1908.3,473.8 1908.9,520.8 1909.4,565.9 1909.9,473.8 1910.5,636.6 1911,532.9 1911.5,501.5 1912.1,350.6 1912.6,551.4 1913.1,561.6 1913.7,491.7 1914.2,546.6 1914.7,560.5 1915.3,400.8 1915.8,589.1 1916.4,406.3 1916.9,592.7 1917.4,629.9 1918,350.1 1918.5,557.6 1919,523.2 1919.6,481 1920.1,447.5 1920.6,505 1921.2,510.1 1921.7,450 1922.2,514.6 1922.8,323.7 1923.3,595.4 1923.8,429.7 1924.4,602.4 1924.9,405.6 1925.4,522.3 1926,549.1 1926.5,514.6 1927,503.8 1927.6,625.6 1928.1,527 1928.6,441.8 1929.2,527 1929.7,408.5 1930.2,385.5 1930.8,566.9 1931.3,452.3 1931.8,568.5 1932.4,553.3 1932.9,584.9 1933.4,468.9 1934,534.2 1934.5,539.6 1935,445.3 1935.6,453.8 1936.1,557.3 1936.6,502.5 1937.2,534 1937.7,626.1 1938.2,525.4 1938.8,481.5 1939.3,603.4 1939.8,340.7 1940.4,552.1 1940.9,545.3 1941.4,621.5 1942,527.8 1942.5,508.5 1943,523.4 1943.6,538.4 1944.1,423.3 1944.6,481.9 1945.2,592.7 1945.7,448.2 1946.2,433.2 1946.8,580.6 1947.3,625.3 1947.8,530.2 1948.4,558.5 1948.9,407.6 1949.4,522.8 1950,474.9 1950.5,594.2 1951,417.6 1951.6,595.7 1952.1,581.4 1952.6,467.3 1953.2,551.8 1953.7,461.1 1954.2,574.4 1954.8,558.5 1955.3,525.1 1955.8,408.8 1956.4,535.8 1956.9,507.4 1957.4,590.3 1958,415 1958.5,595.1 1959,238.9 1959.6,463.1 1960.1,591 1960.7,456.8 1961.2,594.3 1961.7,454.7 1962.3,553 1962.8,474.5 1963.3,529.2 1963.9,604.2 1964.4,332.7 1964.9,483.2 1965.5,544 1966,418.6 1966.5,484.5 1967.1,538.1 1967.6,515.3 1968.1,564.1 1968.7,447.5 1969.2,631.9 1969.7,574.1 1970.3,508.2 1970.8,517.7 1971.3,627.5 1971.9,492.8 1972.4,615.5 1972.9,487.6 1973.5,598 1974,514.1 1974.5,555.8 1975.1,293.8 1975.6,486.1 1976.1,474.2 1976.7,347.9 1977.2,511.8 1977.7,542.5 1978.3,592.8 1978.8,499 1979.3,384.4 1979.9,328.1 1980.4,606.6 1980.9,625.3 1981.5,532.8 1982,421.8 1982.5,585.7 1983.1,451.1 1983.6,548.3 1984.1,569.9 1984.7,538.8 1985.2,531.6 1985.7,455.2 1986.3,529.9 1986.8,558.8 1987.3,451.8 1987.9,634.8 1988.4,478.3 1988.9,547.3 1989.5,547 1990,581.2 1990.5,435.9 1991.1,564.1 1991.6,619.2 1992.1,499.8 1992.7,501.7 1993.2,586.6 1993.7,479.3 1994.3,508.2 1994.8,418.4 1995.3,572.6 1995.9,387.4 1996.4,506.7 1996.9,586.2 1997.5,367.8 1998,532 1998.5,450 1999.1,538.3 1999.6,491.3 2000.1,452.4 2000.7,574.7 2001.2,445.3 2001.7,617.3 2002.3,555.9 2002.8,370.1 2003.3,596 2003.9,448.4 2004.4,579.3 2005,509.1 2005.5,435 2006,485.2 2006.6,482.7 2007.1,568.8 2007.6,479 2008.2,545.3 2008.7,465.3 2009.2,502.2 2009.8,596.2 2010.3,538.6 2010.8,551.9 2011.4,445.8 2011.9,637.8 2012.4,452.1 2013,608.2 2013.5,528.1 2014,439.1 2014.6,515.7 2015.1,538.9 2015.6,540.8 2016.2,360.9 2016.7,578.4 2017.2,479.5 2017.8,507.3 2018.3,451.6 2018.8,556.3 2019.4,529.1 2019.9,451.5 2020.4,335.3 2021,609.6 2021.5,365.9 2022,615.9 2022.6,498.2 2023.1,524.8 2023.6,588.7 2024.2,408.3 2024.7,473.4 2025.2,615.8 2025.8,510.6 2026.3,529.7 2026.8,587.9 2027.4,423 2027.9,555.6 2028.4,555.2 2029,449.1 2029.5,553.5 2030,443 2030.6,558.7 2031.1,408.9 2031.6,369.6 2032.2,472.1 2032.7,650.2 2033.2,542.8 2033.8,487.6 2034.3,551.2 2034.8,509.8 2035.4,589.1 2035.9,421.7 2036.4,552.7 2037,649 2037.5,545.9 2038,606.7 2038.6,517.9 2039.1,480.1 2039.6,548.1 2040.2,480.9 2040.7,660.9 2041.2,438.5 2041.8,624.4 2042.3,387.4 2042.8,354.7 2043.4,591.8 2043.9,377.6 2044.4,595.8 2045,456.4 2045.5,546.1 2046,551.7 2046.6,615.4 2047.1,513 2047.6,567.7 2048.2,368.1 2048.7,564 2049.3,600.9 2049.8,280.9 2050.3,610.4 2050.9,527.8 2051.4,558 2051.9,472.9 2052.5,592.8 2053,457.2 2053.5,410.1 2054.1,584.9 2054.6,424.3 2055.1,608.5 2055.7,463.5 2056.2,587.4 2056.7,638.1 2057.3,497.6 2057.8,532.5 2058.3,283.2 2058.9,604.5 2059.4,461.4 2059.9,481.6 2060.5,505.5 2061,465.3 2061.5,573.4 2062.1,432.1 2062.6,606.3 2063.1,552 2063.7,364.2 2064.2,488.1 2064.7,484.4 2065.3,536.9 2065.8,540.4 2066.3,511.5 2066.9,599.4 2067.4,436.7 2067.9,489.2 2068.5,571.5 2069,528.4 2069.5,362.9 2070.1,600.7 2070.6,388.4 2071.1,537.1 2071.7,639 2072.2,515.8 2072.7,567.9 2073.3,428.8 2073.8,578.4 2074.3,509.1 2074.9,536.3 2075.4,531.5 2075.9,544.5 2076.5,446.7 2077,560.7 2077.5,486.2 2078.1,485.4 2078.6,535.6 2079.1,450.5 2079.7,437.4 2080.2,592.6 2080.7,528.9 2081.3,573 2081.8,517.8 2082.3,546.9 2082.9,542.1 2083.4,364.5 2083.9,550.2 2084.5,493.3 2085,407.3 2085.5,548.3 2086.1,431.8 2086.6,603.7 2087.1,439.4 2087.7,605.3 2088.2,463.1 2088.7,644.3 2089.3,436.3 2089.8,551.4 2090.3,582.3 2090.9,479.4 2091.4,553.1 2091.9,343.2 2092.5,460.7 2093,550.5 2093.6,388.5 2094.1,536 2094.6,543.4 2095.2,575.4 2095.7,452.8 2096.2,570.6 2096.8,512.6 2097.3,444.9 2097.8,500.7 2098.4,575.8 2098.9,409.9 2099.4,611.6 2100,412.2 2100.5,495.6 2101,444.3 2101.6,384.7 2102.1,504.6 2102.6,559.2 2103.2,487.6 2103.7,558.2 2104.2,497.1 2104.8,583.7 2105.3,542.9 2105.8,560.8 2106.4,541 2106.9,464.9 2107.4,417.6 2108,518.3 2108.5,472 2109,549.3 2109.6,503.7 2110.1,332.7 2110.6,527.6 2111.2,583.9 2111.7,562.4 2112.2,414.9 2112.8,389.6 2113.3,586.5 2113.8,235.6 2114.4,531.9 2114.9,567.8 2115.4,455 2116,603.3 2116.5,491.6 2117,648.8 2117.6,596.3 2118.1,471.8 2118.6,566.6 2119.2,487.9 2119.7,475.2 2120.2,530.6 2120.8,445.8 2121.3,490 2121.8,532.4 2122.4,591.8 2122.9,440.1 2123.4,612.8 2124,464.7 2124.5,603.1 2125,440.7 2125.6,485.3 2126.1,413.5 2126.6,618.8 2127.2,466.8 2127.7,618.7 2128.2,433.3 2128.8,593.3 2129.3,444 2129.8,581.2 2130.4,447.6 2130.9,594.1 2131.4,406.8 2132,577.1 2132.5,583.8 2133,389.9 2133.6,561.6 2134.1,451.4 2134.6,631.4 2135.2,451.9 2135.7,610.1 2136.2,509.2 2136.8,534.3 2137.3,424.5 2137.9,477.9 2138.4,488.3 2138.9,598.3 2139.5,541.8 2140,564.6 2140.5,547.4 2141.1,484.7 2141.6,592.3 2142.1,444.1 2142.7,544.6 2143.2,447.2 2143.7,606.7 2144.3,467.8 2144.8,561 2145.3,577.5 2145.9,472.1 2146.4,497.9 2146.9,411.1 2147.5,580.2 2148,413.3 2148.5,571.6 2149.1,472 2149.6,602.1 2150.1,457.7 2150.7,644.1 2151.2,517.3 2151.7,552.4 2152.3,495.3 2152.8,410.6 2153.3,583.8 2153.9,462 2154.4,515.6 2154.9,467.8 2155.5,594.8 2156,488.9 2156.5,471.8 2157.1,497.2 2157.6,584.9 2158.1,496.8 2158.7,568.7 2159.2,527 2159.7,462.5 2160.3,571.4 2160.8,521.1 2161.3,505.2 2161.9,523.5 2162.4,575.8 2162.9,569.1 2163.5,509.3 2164,505.1 2164.5,552.2 2165.1,545.3 2165.6,328.9 2166.1,447.9 2166.7,583.3 2167.2,427.6 2167.7,531.1 2168.3,489.1 2168.8,586.2 2169.3,451.1 2169.9,553.5 2170.4,608.4 2170.9,496.9 2171.5,563.3 2172,543.8 2172.5,534.4 2173.1,471.5 2173.6,608.3 2174.1,481.3 2174.7,587.3 2175.2,606.6 2175.7,502 2176.3,562.2 2176.8,434.8 2177.3,532.9 2177.9,501.1 2178.4,574.2 2178.9,490.1 2179.5,601.5 2180,446.9 2180.5,592.6 2181.1,454.1 2181.6,566.7 2182.1,449.4 2182.7,574.7 2183.2,543.6 2183.8,385.8 2184.3,595.5 2184.8,459 2185.4,643.9 2185.9,493.2 2186.4,369.7 2187,409.4 2187.5,510.8 2188,554.8 2188.6,326.8 2189.1,596.5 2189.6,434.6 2190.2,589.7 2190.7,481.7 2191.2,346.1 2191.8,544.5 2192.3,491 2192.8,493.6 2193.4,458.7 2193.9,350.4 2194.4,542.6 2195,633.3 2195.5,375.6 2196,596.6 2196.6,479.1 2197.1,582.8 2197.6,503.6 2198.2,386.7 2198.7,550.9 2199.2,257.9 2199.8,459.6 2200.3,515.5 2200.8,496 2201.4,543.7 2201.9,579.1 2202.4,559.1 2203,395.2 2203.5,601.8 2204,466.5 2204.6,555 2205.1,309.9 2205.6,553.9 2206.2,467.8 2206.7,420.3 2207.2,584.6 2207.8,461.2 2208.3,598.9 2208.8,606.5 2209.4,487.9 2209.9,591.5 2210.4,445.1 2211,588.1 2211.5,514.4 2212,485.6 2212.6,438.7 2213.1,603 2213.6,473.9 2214.2,586.2 2214.7,409.7 2215.2,538.1 2215.8,464.6 2216.3,520.4 2216.8,587.3 2217.4,571.5 2217.9,243.8 2218.4,479.7 2219,568.5 2219.5,568.3 2220,407.1 2220.6,611.6 2221.1,444.7 2221.6,629.6 2222.2,412.4 2222.7,499.8 2223.2,591.8 2223.8,619.5 2224.3,526.5 2224.8,503.1 2225.4,538.8 2225.9,509.8 2226.4,536.9 2227,602.4 2227.5,582.2 2228.1,514.5 2228.6,456.7 2229.1,423.9 2229.7,598.2 2230.2,423.2 2230.7,565.3 2231.3,438 2231.8,622.4 2232.3,572.6 2232.9,501.2 2233.4,510 2233.9,576.2 2234.5,372.7 2235,578.9 2235.5,424.9 2236.1,320.9 2236.6,539.2 2237.1,539.2 2237.7,638.1 2238.2,487.3 2238.7,469.6 2239.3,503.3 2239.8,377.8 2240.3,566.8 2240.9,446.9 2241.4,565 2241.9,335.5 2242.5,551.9 2243,584 2243.5,472.6 2244.1,473.7 2244.6,540.8 2245.1,511.3 2245.7,523.9 2246.2,559.7 2246.7,511.1 2247.3,426.9 2247.8,553 2248.3,495.2 2248.9,656.4 2249.4,523.6 2249.9,547.7 2250.5,535.4 2251,618.2 2251.5,524.1 2252.1,587.9 2252.6,526 2253.1,558.1 2253.7,445.3 2254.2,599.1 2254.7,560.4 2255.3,465.8 2255.8,644.4 2256.3,582.4 2256.9,527.7 2257.4,603.9 2257.9,567 2258.5,382.9 2259,530.5 2259.5,487.7 2260.1,470.2 2260.6,549.3 2261.1,529.9 2261.7,546.6 2262.2,568.1 2262.7,645 2263.3,534.4 2263.8,500.9 2264.3,550.4 2264.9,476.4 2265.4,616.1 2265.9,463 2266.5,454 2267,551.6 2267.5,510.2 2268.1,376.8 2268.6,547.4 2269.1,433.9 2269.7,503.8 2270.2,588 2270.7,431.1 2271.3,597.2 2271.8,385.2 2272.4,555.6 2272.9,459.8 2273.4,232.8 2274,295.3 2274.5,538.9 2275,418.5 2275.6,650.7 2276.1,435 2276.6,306.3 2277.2,536.9 2277.7,456.6 2278.2,580 2278.8,572.2 2279.3,514.6 2279.8,377.8 2280.4,598.8 2280.9,440.5 2281.4,497.3 2282,305 2282.5,451.4 2283,613.6 2283.6,470.7 2284.1,559.9 2284.6,594.1 2285.2,444.6 2285.7,630.4 2286.2,568.3 2286.8,540.1 2287.3,497.2 2287.8,461.2 2288.4,526.5 2288.9,581.2 2289.4,429.2 2290,601.4 2290.5,653.6 2291,508.2 2291.6,507.4 2292.1,620.1 2292.6,424.2 2293.2,489.2 2293.7,391.1 2294.2,592.7 2294.8,506 2295.3,523.5 2295.8,456.3 2296.4,558.8 2296.9,471 2297.4,561.3 2298,464.6 2298.5,437.8 2299,612.1 2299.6,445.3 2300.1,412.7 2300.6,597.4 2301.2,559.7 2301.7,466.4 2302.2,558.5 2302.8,513.3 2303.3,390.5 2303.8,373.2 2304.4,576.4 2304.9,604.9 2305.4,516.3 2306,568.7 2306.5,485.4 2307,509.1 2307.6,515.7 2308.1,563.4 2308.6,158.4 2309.2,563.6 2309.7,521.3 2310.2,510.4 2310.8,541.1 2311.3,597.3 2311.8,609.9 2312.4,483.3 2312.9,544.6 2313.4,541.2 2314,384.7 2314.5,611.7 2315,510 2315.6,577.1 2316.1,479.8 2316.7,563.5 2317.2,443.6 2317.7,608.7 2318.3,478.4 2318.8,608.1 2319.3,457.6 2319.9,507.7 2320.4,386.6 2320.9,273.5 2321.5,624.9 2322,397.2 2322.5,591.2 2323.1,533.5 2323.6,516.9 2324.1,592.1 2324.7,445 2325.2,639 2325.7,503.4 2326.3,516 2326.8,498.1 2327.3,308.9 2327.9,499.1 2328.4,414.8 2328.9,519.4 2329.5,517.9 2330,421.1 2330.5,468.6 2331.1,562.1 2331.6,425.4 2332.1,559 2332.7,626.1 2333.2,459 2333.7,470 2334.3,606 2334.8,557 2335.3,439.4 2335.9,549.5 2336.4,634.6 2336.9,546.7 2337.5,618.5 2338,622.1 2338.5,424.3 2339.1,566.4 2339.6,463.8 2340.1,542.3 2340.7,546.1 2341.2,554.2 2341.7,432.3 2342.3,421.2 2342.8,531.9 2343.3,517.1 2343.9,531.3 2344.4,443.4 2344.9,536.6 2345.5,574.5 2346,481.6 2346.5,589.5 2347.1,538.9 2347.6,340.4 2348.1,563.8 2348.7,505.3 2349.2,608.2 2349.7,529 2350.3,485.2 2350.8,534.3 2351.3,549.6 2351.9,565.5 2352.4,618.6 2352.9,510.7 2353.5,451.6 2354,472.6 2354.5,519.8 2355.1,454.9 2355.6,396.4 2356.1,553.4 2356.7,514.2 2357.2,366 2357.7,583.6 2358.3,565.3 2358.8,380.5 2359.3,542.2 2359.9,423.7 2360.4,506 2361,511.2 2361.5,571.5 2362,602.2 2362.6,424.8 2363.1,549.5 2363.6,405.5 2364.2,473.6 2364.7,530.4 2365.2,460.4 2365.8,397 2366.3,601.6 2366.8,530.9 2367.4,490 2367.9,547 2368.4,378.8 2369,537.2 2369.5,594.1 2370,448.1 2370.6,597.3 2371.1,479.3 2371.6,349.1 2372.2,600.5 2372.7,520.9 2373.2,442.8 2373.8,506.8 2374.3,480.4 2374.8,530 2375.4,471.6 2375.9,524.6 2376.4,391.9 2377,532.2 2377.5,562.3 2378,528.3 2378.6,482.4 2379.1,589.8 2379.6,511.8 2380.2,500.4 2380.7,425.6 2381.2,607.3 2381.8,417.8 2382.3,557.8"/>
<text class="m" x="247.9" y="768.5">0</text>
<text class="m" x="514.7" y="768.5">20</text>
<text class="m" x="781.5" y="768.5">40</text>
<text class="m" x="1048.3" y="768.5">60</text>
<text class="m" x="1315.1" y="768.5">80</text>
<text class="m" x="1581.9" y="768.5">100</text>
<text class="m" x="1848.7" y="768.5">120</text>
<text class="m" x="2115.5" y="768.5">140</text>
<text class="m" x="2382.3" y="768.5">160</text>
<text class="e" x="219.4" y="692.2">0</text>
<text class="e" x="219.4" y="409.3">0.5</text>
<text class="e" x="219.4" y="126.4">1</text>
<text class="m" transform="translate(81.2 383.5) rotate(-90) scale(1 0.95)">Normalized Amplitude</text>
<text class="m" transform="translate(1312.6 867.3) scale(1 0.95)">Time(s)</text>
<text class="m" transform="translate(1314 962.4) scale(1 0.95)">(a)</text>
</g>
<g id="plot-b">
<rect class="ax" x="247.9" y="1084.1" width="2134.4" height="560.7"/>
<path class="ax" d="M461.3 1644.8v-22.5 M461.3 1084.1v22.5 M888.2 1644.8v-22.5 M888.2 1084.1v22.5 M1315.1 1644.8v-22.5 M1315.1 1084.1v22.5 M1742 1644.8v-22.5 M1742 1084.1v22.5 M2168.9 1644.8v-22.5 M2168.9 1084.1v22.5 M247.9 1364.4h22.5 M2382.3 1364.4h-22.5"/>
<polyline class="sig sb" points="247.9,1604.6 248.4,1551.1 249,1604.1 249.5,1600.7 250,1631.3 250.6,1570.4 251.1,1627.5 251.6,1540.9 252.2,1579.6 252.7,1602.2 253.2,1586.1 253.8,1607.9 254.3,1605 254.8,1539.5 255.4,1631.4 255.9,1565.6 256.4,1614.3 257,1615.5 257.5,1566.1 258,1618.9 258.6,1558.7 259.1,1507.6 259.6,1581.1 260.2,1588.2 260.7,1584.7 261.2,1527.4 261.8,1577.1 262.3,1457.7 262.8,1597.5 263.4,1524.9 263.9,1620.8 264.4,1557.8 265,1608.6 265.5,1553.4 266,1602.2 266.6,1572.9 267.1,1556.8 267.6,1618 268.2,1554.9 268.7,1565.4 269.2,1595.1 269.8,1572.2 270.3,1643.1 270.9,1550.9 271.4,1543.4 271.9,1610.7 272.5,1563.4 273,1532.3 273.5,1584.8 274.1,1604.3 274.6,1514 275.1,1620.6 275.7,1573.7 276.2,1611.7 276.7,1560.9 277.3,1591.2 277.8,1629.4 278.3,1574.6 278.9,1601.1 279.4,1626 279.9,1596.1 280.5,1568.9 281,1603 281.5,1621.3 282.1,1530.8 282.6,1608.6 283.1,1574.1 283.7,1592 284.2,1574.7 284.7,1566.7 285.3,1588 285.8,1557.3 286.3,1535.2 286.9,1605 287.4,1539.4 287.9,1591.9 288.5,1566.5 289,1625.2 289.5,1556.8 290.1,1546.3 290.6,1590 291.1,1566.5 291.7,1619.3 292.2,1555.7 292.7,1613.3 293.3,1589.6 293.8,1550.2 294.3,1605.4 294.9,1564.5 295.4,1572.8 295.9,1626.4 296.5,1576.3 297,1621.8 297.5,1505.8 298.1,1582.8 298.6,1593 299.1,1585.1 299.7,1580.2 300.2,1594.7 300.7,1614.7 301.3,1565 301.8,1589.4 302.3,1622.3 302.9,1566.5 303.4,1578.2 303.9,1598.9 304.5,1627.6 305,1606.4 305.5,1533.6 306.1,1548.9 306.6,1623.9 307.1,1520.5 307.7,1608.3 308.2,1560.4 308.7,1624.6 309.3,1589.5 309.8,1608.2 310.3,1592.7 310.9,1537.4 311.4,1574.5 311.9,1590.3 312.5,1635.8 313,1632.8 313.5,1536.8 314.1,1517.4 314.6,1619.9 315.2,1610 315.7,1588.1 316.2,1586.1 316.8,1593 317.3,1570.6 317.8,1621.1 318.4,1536.4 318.9,1598 319.4,1619.1 320,1562 320.5,1588.4 321,1594.4 321.6,1570.3 322.1,1609.2 322.6,1551.5 323.2,1584.6 323.7,1583.2 324.2,1554.7 324.8,1623.6 325.3,1572.2 325.8,1578.6 326.4,1569.2 326.9,1608.3 327.4,1517.9 328,1606 328.5,1600.4 329,1604.4 329.6,1544.7 330.1,1626.8 330.6,1592.6 331.2,1588.9 331.7,1593.1 332.2,1593.5 332.8,1509.7 333.3,1635.8 333.8,1590.8 334.4,1558.4 334.9,1542 335.4,1601.5 336,1591.9 336.5,1581.1 337,1579.1 337.6,1592.5 338.1,1573.7 338.6,1608.4 339.2,1582.2 339.7,1623.7 340.2,1558 340.8,1601.6 341.3,1595.1 341.8,1643 342.4,1565.4 342.9,1616.7 343.4,1606.6 344,1581.6 344.5,1622.1 345,1580.4 345.6,1573.8 346.1,1622.1 346.6,1555 347.2,1632.1 347.7,1602.2 348.2,1578.5 348.8,1605.8 349.3,1629.2 349.8,1591.7 350.4,1583.6 350.9,1609.7 351.4,1521 352,1583.7 352.5,1577.2 353,1600.1 353.6,1560.5 354.1,1566.6 354.6,1578.6 355.2,1614 355.7,1545.3 356.2,1618.9 356.8,1560.4 357.3,1577 357.8,1565.4 358.4,1602.7 358.9,1554.3 359.5,1563.2 360,1598.1 360.5,1574.9 361.1,1617.1 361.6,1605.9 362.1,1599 362.7,1579.3 363.2,1590.1 363.7,1588.3 364.3,1629.4 364.8,1591.8 365.3,1596.5 365.9,1608.4 366.4,1586.7 366.9,1603.6 367.5,1582.1 368,1597.1 368.5,1619.2 369.1,1596.1 369.6,1576.9 370.1,1581.7 370.7,1606.1 371.2,1580.7 371.7,1560.1 372.3,1618.5 372.8,1540.8 373.3,1608.8 373.9,1558.9 374.4,1579.1 374.9,1604.4 375.5,1518.4 376,1568.7 376.5,1604 377.1,1582.5 377.6,1572 378.1,1609.4 378.7,1530.9 379.2,1578.9 379.7,1636.2 380.3,1563.3 380.8,1531.3 381.3,1597.3 381.9,1602.1 382.4,1590.3 382.9,1631.7 383.5,1595.3 384,1613 384.5,1494.1 385.1,1608.4 385.6,1540.9 386.1,1594.4 386.7,1577.4 387.2,1593.1 387.7,1541.1 388.3,1613.8 388.8,1567.2 389.3,1614.4 389.9,1463.6 390.4,1602.9 390.9,1569.9 391.5,1604 392,1582.9 392.5,1540.5 393.1,1585.1 393.6,1574.7 394.1,1615.7 394.7,1551.5 395.2,1608.4 395.7,1482 396.3,1568.6 396.8,1619.6 397.3,1592.5 397.9,1617.5 398.4,1573.3 398.9,1624.8 399.5,1575.9 400,1590.2 400.5,1630.5 401.1,1543.5 401.6,1586.3 402.1,1587.1 402.7,1586.8 403.2,1619 403.8,1545.5 404.3,1623.7 404.8,1568.2 405.4,1581.8 405.9,1552.1 406.4,1615 407,1539.2 407.5,1624.8 408,1602.6 408.6,1567.4 409.1,1595.8 409.6,1540.8 410.2,1630 410.7,1633.7 411.2,1571.2 411.8,1621.2 412.3,1575 412.8,1562.6 413.4,1595.3 413.9,1505.1 414.4,1619.3 415,1553.9 415.5,1585.9 416,1578.9 416.6,1626.7 417.1,1595.3 417.6,1602.9 418.2,1568.1 418.7,1591.2 419.2,1636.6 419.8,1516.6 420.3,1576.7 420.8,1558 421.4,1576.8 421.9,1517.5 422.4,1553.8 423,1608.8 423.5,1581 424,1575.9 424.6,1625 425.1,1494.8 425.6,1547.2 426.2,1589.7 426.7,1594.5 427.2,1620.2 427.8,1577.2 428.3,1578.6 428.8,1594.1 429.4,1531.6 429.9,1562.7 430.4,1610.4 431,1593 431.5,1604.4 432,1554.8 432.6,1605 433.1,1564.6 433.6,1589.7 434.2,1575.7 434.7,1618.1 435.2,1486.4 435.8,1564.7 436.3,1584.4 436.8,1610.4 437.4,1580.1 437.9,1575.9 438.4,1541.5 439,1587.1 439.5,1547 440,1604 440.6,1614.8 441.1,1547.3 441.6,1576.8 442.2,1591.1 442.7,1553.9 443.2,1586.4 443.8,1551.8 444.3,1526.9 444.8,1606.4 445.4,1567.5 445.9,1617.4 446.4,1530.9 447,1624.7 447.5,1561.3 448.1,1564.4 448.6,1613.1 449.1,1568.7 449.7,1613 450.2,1551.5 450.7,1621.8 451.3,1594.1 451.8,1635.1 452.3,1551.1 452.9,1603.2 453.4,1616 453.9,1534.3 454.5,1603.2 455,1600.9 455.5,1594.7 456.1,1533.8 456.6,1621 457.1,1557.7 457.7,1611.9 458.2,1521 458.7,1609.1 459.3,1556.2 459.8,1604.5 460.3,1554.2 460.9,1626.6 461.4,1617.9 461.9,1549.6 462.5,1603.7 463,1559.9 463.5,1551.2 464.1,1586.1 464.6,1576.9 465.1,1512.3 465.7,1635.6 466.2,1553.5 466.7,1638 467.3,1588.6 467.8,1531.4 468.3,1547.2 468.9,1586.5 469.4,1603.1 469.9,1595.9 470.5,1626.5 471,1563.2 471.5,1583.8 472.1,1634.8 472.6,1521 473.1,1618.2 473.7,1562.2 474.2,1606.8 474.7,1561 475.3,1613.1 475.8,1565.8 476.3,1582.8 476.9,1527.7 477.4,1609.7 477.9,1493.5 478.5,1525 479,1606 479.5,1582.7 480.1,1562.4 480.6,1586.7 481.1,1622.8 481.7,1572.1 482.2,1626.1 482.7,1559.7 483.3,1611.2 483.8,1565.1 484.3,1614.6 484.9,1580.5 485.4,1603 485.9,1534.3 486.5,1574.5 487,1609.5 487.5,1611 488.1,1508.2 488.6,1561 489.1,1591 489.7,1564.4 490.2,1617.3 490.7,1560.2 491.3,1526.3 491.8,1620.3 492.3,1573.8 492.9,1595.5 493.4,1586.6 494,1628.1 494.5,1605 495,1564.4 495.6,1601.6 496.1,1511 496.6,1624.2 497.2,1545.6 497.7,1568.4 498.2,1601.4 498.8,1574.2 499.3,1617.5 499.8,1544.5 500.4,1573.2 500.9,1595.5 501.4,1574 502,1562.4 502.5,1586 503,1536.4 503.6,1602.7 504.1,1580.6 504.6,1625.2 505.2,1580.5 505.7,1579 506.2,1567.6 506.8,1621.2 507.3,1548.6 507.8,1588 508.4,1601.3 508.9,1545.6 509.4,1541.4 510,1611.3 510.5,1541.4 511,1602.8 511.6,1559.9 512.1,1601.7 512.6,1537.1 513.2,1611 513.7,1505.6 514.2,1621.6 514.8,1570.5 515.3,1618.7 515.8,1623.8 516.4,1565.3 516.9,1541.7 517.4,1582.4 518,1609.9 518.5,1607.8 519,1588.6 519.6,1558.8 520.1,1610.1 520.6,1568.5 521.2,1520.5 521.7,1537.1 522.2,1633.5 522.8,1559.6 523.3,1613.9 523.8,1577.6 524.4,1613.7 524.9,1578.6 525.4,1630.3 526,1624.5 526.5,1488.9 527,1626.1 527.6,1589.3 528.1,1555.6 528.6,1603.8 529.2,1548.9 529.7,1516.6 530.2,1603 530.8,1496.9 531.3,1564.9 531.8,1618.9 532.4,1584.6 532.9,1635.2 533.4,1587.1 534,1596.1 534.5,1609.9 535,1602 535.6,1571.2 536.1,1597.6 536.6,1605.7 537.2,1620.8 537.7,1563.1 538.3,1616.5 538.8,1570.9 539.3,1611.1 539.9,1621.5 540.4,1556.7 540.9,1615.5 541.5,1584.5 542,1562.1 542.5,1615.9 543.1,1557.9 543.6,1626.7 544.1,1541.6 544.7,1623.3 545.2,1550.3 545.7,1609.5 546.3,1566.9 546.8,1481.8 547.3,1635.9 547.9,1513.4 548.4,1571.2 548.9,1593.5 549.5,1629 550,1580.1 550.5,1623.6 551.1,1572.7 551.6,1559.1 552.1,1629.6 552.7,1539.6 553.2,1626.7 553.7,1592.3 554.3,1604.7 554.8,1618.3 555.3,1590.9 555.9,1549.7 556.4,1609.4 556.9,1566 557.5,1632.3 558,1601.8 558.5,1572 559.1,1602.6 559.6,1578.5 560.1,1569 560.7,1591.3 561.2,1590.6 561.7,1600.3 562.3,1556.6 562.8,1550.1 563.3,1580.5 563.9,1557.5 564.4,1610.3 564.9,1620.9 565.5,1594.5 566,1625.7 566.5,1564.5 567.1,1632.3 567.6,1609.5 568.1,1516.6 568.7,1609.6 569.2,1566.2 569.7,1613.2 570.3,1547 570.8,1596.8 571.3,1621.4 571.9,1589.1 572.4,1573.6 572.9,1605.4 573.5,1626.3 574,1573 574.5,1604.8 575.1,1510.7 575.6,1612.2 576.1,1568.3 576.7,1632.4 577.2,1578.3 577.7,1578.8 578.3,1548.3 578.8,1570.7 579.3,1581.4 579.9,1537.5 580.4,1590.1 580.9,1530 581.5,1580.4 582,1534.7 582.6,1629.5 583.1,1606.7 583.6,1514.8 584.2,1593.1 584.7,1623.7 585.2,1575.6 585.8,1615.8 586.3,1577.4 586.8,1631.5 587.4,1576.6 587.9,1543.2 588.4,1597.7 589,1558.1 589.5,1574.6 590,1604.8 590.6,1580.6 591.1,1598.1 591.6,1533.4 592.2,1588.5 592.7,1573.6 593.2,1626.3 593.8,1604.3 594.3,1494.6 594.8,1550.5 595.4,1584.7 595.9,1554.3 596.4,1610.4 597,1596.1 597.5,1612.5 598,1617.3 598.6,1572.2 599.1,1593.4 599.6,1590.9 600.2,1617.7 600.7,1553.1 601.2,1612.9 601.8,1558.5 602.3,1595.3 602.8,1610.1 603.4,1602.2 603.9,1588.1 604.4,1565.5 605,1625.5 605.5,1609.2 606,1580 606.6,1542.9 607.1,1635.8 607.6,1636.6 608.2,1545.2 608.7,1579.8 609.2,1620.9 609.8,1603.9 610.3,1609.5 610.8,1583.8 611.4,1540.1 611.9,1584.7 612.4,1552.8 613,1614.1 613.5,1603.5 614,1589.5 614.6,1603.1 615.1,1589.7 615.6,1574.8 616.2,1604.8 616.7,1560.7 617.2,1629.9 617.8,1502.5 618.3,1567.8 618.8,1626.1 619.4,1591.6 619.9,1630.5 620.4,1577.1 621,1632.4 621.5,1605.1 622,1587.7 622.6,1563.3 623.1,1546.2 623.6,1623.5 624.2,1586.7 624.7,1502.5 625.2,1571.7 625.8,1586.2 626.3,1605.3 626.9,1592.5 627.4,1597.6 627.9,1570.9 628.5,1630.7 629,1546.5 629.5,1550.6 630.1,1596 630.6,1574.2 631.1,1617.9 631.7,1541.8 632.2,1540.4 632.7,1607.8 633.3,1591.3 633.8,1618.8 634.3,1589.2 634.9,1561.4 635.4,1592 635.9,1550.2 636.5,1527.6 637,1554.6 637.5,1604.6 638.1,1596.2 638.6,1596.3 639.1,1607.7 639.7,1616.5 640.2,1583.2 640.7,1609 641.3,1560.3 641.8,1578.9 642.3,1539.1 642.9,1497.6 643.4,1604.9 643.9,1550 644.5,1630.8 645,1596.7 645.5,1572.4 646.1,1516.1 646.6,1625.2 647.1,1536 647.7,1581.8 648.2,1538.6 648.7,1551 649.3,1612.5 649.8,1562.1 650.3,1614 650.9,1572.3 651.4,1604.8 651.9,1535.9 652.5,1597.9 653,1547.5 653.5,1586.9 654.1,1614.4 654.6,1555.3 655.1,1633.3 655.7,1556.3 656.2,1611.9 656.7,1597.9 657.3,1530.2 657.8,1614.1 658.3,1618.1 658.9,1579.1 659.4,1595.1 659.9,1578.5 660.5,1530.3 661,1559.7 661.5,1582.3 662.1,1545.7 662.6,1535.3 663.1,1583.1 663.7,1617.6 664.2,1528.1 664.7,1566.7 665.3,1578.9 665.8,1569.5 666.3,1614.7 666.9,1549.7 667.4,1605.7 667.9,1529.6 668.5,1598.4 669,1496.9 669.5,1604.6 670.1,1540.5 670.6,1544 671.2,1603.5 671.7,1548.4 672.2,1537.9 672.8,1642.4 673.3,1604.9 673.8,1564.4 674.4,1617.8 674.9,1534.5 675.4,1607.2 676,1564 676.5,1617.7 677,1586.8 677.6,1551.4 678.1,1612 678.6,1525.1 679.2,1631.5 679.7,1556.6 680.2,1601.1 680.8,1560.5 681.3,1585.9 681.8,1640.8 682.4,1606 682.9,1595.9 683.4,1580.2 684,1561.9 684.5,1618.3 685,1598.3 685.6,1577 686.1,1631.2 686.6,1566.6 687.2,1516.6 687.7,1621.9 688.2,1604.9 688.8,1562.5 689.3,1619.3 689.8,1553.8 690.4,1615.7 690.9,1610.2 691.4,1600.1 692,1578.4 692.5,1606 693,1566.4 693.6,1611.4 694.1,1572.3 694.6,1607.9 695.2,1560.6 695.7,1616 696.2,1511 696.8,1630.8 697.3,1596.6 697.8,1589.1 698.4,1488.7 698.9,1609.9 699.4,1608.3 700,1571.1 700.5,1589.2 701,1529.8 701.6,1579.8 702.1,1536.6 702.6,1607.8 703.2,1617.2 703.7,1584 704.2,1586.6 704.8,1563.2 705.3,1611.3 705.8,1560.1 706.4,1598.3 706.9,1607.7 707.4,1620.4 708,1564.4 708.5,1623.2 709,1522.5 709.6,1611 710.1,1583.7 710.6,1569.1 711.2,1607.8 711.7,1566.8 712.2,1592 712.8,1575.1 713.3,1538.9 713.8,1588 714.4,1613.8 714.9,1515.3 715.5,1604.4 716,1594.5 716.5,1615 717.1,1539.7 717.6,1542.2 718.1,1632 718.7,1626.1 719.2,1585.2 719.7,1557.7 720.3,1621 720.8,1543.4 721.3,1624.9 721.9,1594.5 722.4,1600 722.9,1538.7 723.5,1611.5 724,1572.2 724.5,1600.4 725.1,1582 725.6,1556.6 726.1,1586.1 726.7,1625.1 727.2,1611.7 727.7,1596.7 728.3,1566.7 728.8,1544.1 729.3,1625.1 729.9,1548.3 730.4,1571.6 730.9,1622.1 731.5,1562.5 732,1580.8 732.5,1571.2 733.1,1576.4 733.6,1492.5 734.1,1638.9 734.7,1553 735.2,1601.4 735.7,1563 736.3,1586.8 736.8,1558.3 737.3,1616.1 737.9,1540.5 738.4,1545.4 738.9,1624 739.5,1618.5 740,1563.6 740.5,1571.4 741.1,1601.6 741.6,1591.2 742.1,1592.7 742.7,1626.8 743.2,1501.5 743.7,1595.2 744.3,1555 744.8,1554.2 745.3,1594.7 745.9,1631.1 746.4,1589.1 746.9,1576.1 747.5,1587.1 748,1556.3 748.5,1628.4 749.1,1574.4 749.6,1613.8 750.1,1620.4 750.7,1597 751.2,1639.3 751.7,1542.8 752.3,1592.1 752.8,1539.9 753.3,1630.2 753.9,1583.3 754.4,1551.9 754.9,1548.1 755.5,1583.6 756,1621.3 756.5,1591.2 757.1,1577.4 757.6,1584.9 758.1,1609.2 758.7,1570.5 759.2,1605.5 759.8,1528.7 760.3,1603 760.8,1574.2 761.4,1626.8 761.9,1549.7 762.4,1602.6 763,1546.8 763.5,1545.9 764,1617.8 764.6,1568.6 765.1,1606.9 765.6,1543.2 766.2,1596.8 766.7,1572.6 767.2,1628.8 767.8,1585.9 768.3,1598.3 768.8,1614.9 769.4,1570 769.9,1597.6 770.4,1606.2 771,1561 771.5,1544.8 772,1612.9 772.6,1565.8 773.1,1622 773.6,1550.2 774.2,1608.6 774.7,1575.8 775.2,1612.8 775.8,1563.3 776.3,1605.2 776.8,1553.3 777.4,1614.9 777.9,1560.7 778.4,1613.4 779,1601.7 779.5,1551.2 780,1611.3 780.6,1553.9 781.1,1618.6 781.6,1570.4 782.2,1624.8 782.7,1584.2 783.2,1593.9 783.8,1500.7 784.3,1575 784.8,1632 785.4,1597.1 785.9,1590.3 786.4,1540.5 787,1606.7 787.5,1555.5 788,1604 788.6,1617.1 789.1,1599.4 789.6,1594.5 790.2,1603.9 790.7,1515.3 791.2,1589.1 791.8,1635.1 792.3,1544.3 792.8,1580.6 793.4,1596.8 793.9,1582.7 794.4,1592.9 795,1584.4 795.5,1563.6 796,1586.4 796.6,1611.5 797.1,1614.7 797.6,1544.8 798.2,1604.3 798.7,1562.2 799.2,1585.2 799.8,1611 800.3,1554.7 800.8,1607.4 801.4,1553.2 801.9,1592.5 802.4,1570.1 803,1565.5 803.5,1625.2 804.1,1628.4 804.6,1561 805.1,1556.1 805.7,1609.2 806.2,1602.6 806.7,1562.9 807.3,1565.1 807.8,1621.9 808.3,1535.2 808.9,1573.8 809.4,1588.4 809.9,1549.2 810.5,1577.5 811,1624.4 811.5,1627.8 812.1,1540.7 812.6,1596.3 813.1,1590.2 813.7,1539.4 814.2,1513.3 814.7,1601.4 815.3,1633.7 815.8,1574.6 816.3,1602.1 816.9,1543.4 817.4,1586.1 817.9,1624.2 818.5,1564.2 819,1582.1 819.5,1639.3 820.1,1563.7 820.6,1616.9 821.1,1572.1 821.7,1626.1 822.2,1626.3 822.7,1596.3 823.3,1588.6 823.8,1559.5 824.3,1602.3 824.9,1597.2 825.4,1590.3 825.9,1613.9 826.5,1516.1 827,1571.8 827.5,1636.1 828.1,1602.2 828.6,1563.2 829.1,1610.3 829.7,1534.5 830.2,1607.4 830.7,1570.6 831.3,1615 831.8,1555 832.3,1585.8 832.9,1530.1 833.4,1598.7 833.9,1625 834.5,1632 835,1575.5 835.5,1629.9 836.1,1564.9 836.6,1583.7 837.1,1631.9 837.7,1579.9 838.2,1556 838.7,1580.4 839.3,1625.9 839.8,1574 840.3,1635.9 840.9,1551.6 841.4,1608.3 841.9,1599.1 842.5,1626.5 843,1601.2 843.5,1564.5 844.1,1612 844.6,1616.7 845.1,1585.1 845.7,1623.3 846.2,1556.6 846.7,1570.6 847.3,1584.7 847.8,1586.9 848.4,1589.6 848.9,1627.5 849.4,1575.6 850,1614.3 850.5,1566.9 851,1602.6 851.6,1544.7 852.1,1559.5 852.6,1585.3 853.2,1579.1 853.7,1579.5 854.2,1636.1 854.8,1589.3 855.3,1583.8 855.8,1594.6 856.4,1563 856.9,1610.8 857.4,1561.1 858,1585.3 858.5,1608.3 859,1622.1 859.6,1582.4 860.1,1608.4 860.6,1568.4 861.2,1625.7 861.7,1597.7 862.2,1553.8 862.8,1641.4 863.3,1565.4 863.8,1588.1 864.4,1587 864.9,1590.2 865.4,1576.6 866,1607.8 866.5,1592.5 867,1577.9 867.6,1586.2 868.1,1626.2 868.6,1597.2 869.2,1548.5 869.7,1587.1 870.2,1590.1 870.8,1541.7 871.3,1615.8 871.8,1503.8 872.4,1552.3 872.9,1598.1 873.4,1561.9 874,1547.9 874.5,1578.3 875,1540.6 875.6,1510.7 876.1,1590 876.6,1613 877.2,1555.9 877.7,1605.8 878.2,1536.3 878.8,1561.4 879.3,1625.8 879.8,1585.1 880.4,1565.7 880.9,1619.7 881.4,1528.4 882,1606.8 882.5,1510.2 883,1550.7 883.6,1606.3 884.1,1554.8 884.6,1569.8 885.2,1590.8 885.7,1541.2 886.2,1621.6 886.8,1567.4 887.3,1601.9 887.8,1591.3 888.4,1603.5 888.9,1547 889.4,1625.2 890,1560.4 890.5,1611.6 891,1588 891.6,1607.7 892.1,1576.3 892.6,1590.9 893.2,1575.2 893.7,1521.2 894.3,1586.3 894.8,1596.5 895.3,1582.1 895.9,1621.9 896.4,1515.9 896.9,1609.7 897.5,1551.5 898,1527.7 898.5,1611.3 899.1,1596.5 899.6,1476.1 900.1,1603.8 900.7,1633.1 901.2,1587 901.7,1555.8 902.3,1533.3 902.8,1609.1 903.3,1554.9 903.9,1555.1 904.4,1597.4 904.9,1593.7 905.5,1620.3 906,1565.2 906.5,1626.5 907.1,1467.1 907.6,1604.7 908.1,1574.8 908.7,1583.5 909.2,1554.9 909.7,1579 910.3,1502.5 910.8,1618.1 911.3,1582.9 911.9,1586.7 912.4,1596.7 912.9,1550 913.5,1583.2 914,1592.2 914.5,1570.8 915.1,1617.1 915.6,1560.5 916.1,1584.1 916.7,1593.6 917.2,1615.6 917.7,1604.2 918.3,1561.8 918.8,1616.9 919.3,1510.5 919.9,1585.1 920.4,1597.9 920.9,1583 921.5,1629.4 922,1525.5 922.5,1619.6 923.1,1614.2 923.6,1592.3 924.1,1571.9 924.7,1574.7 925.2,1592.3 925.7,1586 926.3,1555 926.8,1576.9 927.3,1584.6 927.9,1581.9 928.4,1617.5 928.9,1552.9 929.5,1617.6 930,1543.2 930.5,1617.1 931.1,1566.6 931.6,1611.6 932.1,1556.7 932.7,1625 933.2,1551.9 933.7,1584.7 934.3,1532.4 934.8,1596.1 935.3,1548.4 935.9,1569.8 936.4,1592 936.9,1603.7 937.5,1612.5 938,1516.6 938.6,1587.9 939.1,1623 939.6,1610.4 940.2,1603 940.7,1578.1 941.2,1573.4 941.8,1587.1 942.3,1566.8 942.8,1551.7 943.4,1577.6 943.9,1552.8 944.4,1608.3 945,1584.6 945.5,1572.7 946,1634.1 946.6,1594.6 947.1,1537.4 947.6,1598.2 948.2,1576.1 948.7,1577.1 949.2,1544.2 949.8,1547.3 950.3,1597.7 950.8,1626.5 951.4,1556.4 951.9,1586 952.4,1577 953,1551.5 953.5,1519.4 954,1577.3 954.6,1629.6 955.1,1558.9 955.6,1622.7 956.2,1550.8 956.7,1616.9 957.2,1569 957.8,1633.9 958.3,1596.5 958.8,1576.5 959.4,1581.9 959.9,1591.2 960.4,1544 961,1602.9 961.5,1600.7 962,1539.8 962.6,1563.3 963.1,1626 963.6,1574.3 964.2,1578.1 964.7,1615.8 965.2,1588.1 965.8,1566.4 966.3,1576.8 966.8,1627.3 967.4,1586.2 967.9,1594.6 968.4,1546.2 969,1565.8 969.5,1577.9 970,1618.7 970.6,1609.6 971.1,1574.2 971.6,1517.4 972.2,1568.7 972.7,1600.4 973.2,1567.5 973.8,1619.7 974.3,1571.2 974.8,1608.1 975.4,1578.3 975.9,1569.6 976.4,1604 977,1552.6 977.5,1618.8 978,1547.6 978.6,1618 979.1,1545.4 979.6,1618.3 980.2,1564.5 980.7,1625.6 981.2,1588.8 981.8,1576.4 982.3,1617.9 982.9,1567.5 983.4,1586.1 983.9,1625.7 984.5,1599 985,1596.8 985.5,1578.7 986.1,1584.9 986.6,1581.7 987.1,1533 987.7,1600.3 988.2,1566.3 988.7,1624.2 989.3,1559.8 989.8,1580.2 990.3,1603.4 990.9,1614.8 991.4,1580 991.9,1589.2 992.5,1623 993,1522.5 993.5,1586.2 994.1,1608.3 994.6,1591.9 995.1,1549.4 995.7,1615.5 996.2,1594.2 996.7,1623 997.3,1593.9 997.8,1620.9 998.3,1622.6 998.9,1542.2 999.4,1567.7 999.9,1602.7 1000.5,1636.8 1001,1546 1001.5,1584.6 1002.1,1579 1002.6,1570.1 1003.1,1618.1 1003.7,1557.2 1004.2,1602.9 1004.7,1575.8 1005.3,1591.8 1005.8,1595 1006.3,1597.9 1006.9,1633.9 1007.4,1605.6 1007.9,1570.5 1008.5,1549.2 1009,1605.9 1009.5,1587.6 1010.1,1558.3 1010.6,1577.3 1011.1,1543.7 1011.7,1614.3 1012.2,1593 1012.7,1543.1 1013.3,1602.2 1013.8,1570.7 1014.3,1601.4 1014.9,1570.7 1015.4,1595 1015.9,1601 1016.5,1538.7 1017,1606.8 1017.5,1557.4 1018.1,1624.7 1018.6,1570.8 1019.1,1577.3 1019.7,1594.3 1020.2,1605.8 1020.7,1619.8 1021.3,1590.1 1021.8,1550.4 1022.3,1550.9 1022.9,1621.1 1023.4,1587.5 1023.9,1601.1 1024.5,1560.6 1025,1567.3 1025.5,1583.9 1026.1,1598.1 1026.6,1603.6 1027.2,1571.1 1027.7,1600.2 1028.2,1554.5 1028.8,1624.1 1029.3,1576.9 1029.8,1605.6 1030.4,1508.7 1030.9,1610.3 1031.4,1557.8 1032,1618.7 1032.5,1551.9 1033,1623.6 1033.6,1566.1 1034.1,1561.8 1034.6,1581.1 1035.2,1596.4 1035.7,1583.3 1036.2,1608.7 1036.8,1632.9 1037.3,1598.9 1037.8,1634.3 1038.4,1535.8 1038.9,1593.1 1039.4,1598.3 1040,1570.4 1040.5,1566.9 1041,1593.5 1041.6,1589.3 1042.1,1619.8 1042.6,1583.1 1043.2,1570.2 1043.7,1614.7 1044.2,1566.6 1044.8,1585.1 1045.3,1558.2 1045.8,1521.2 1046.4,1569.6 1046.9,1615.7 1047.4,1600.5 1048,1544.1 1048.5,1614.8 1049,1564.5 1049.6,1575.1 1050.1,1590.9 1050.6,1628.1 1051.2,1561.6 1051.7,1543.3 1052.2,1614.6 1052.8,1585.9 1053.3,1524.5 1053.8,1601.2 1054.4,1568.5 1054.9,1510.2 1055.4,1534.9 1056,1586.9 1056.5,1600.6 1057,1600.1 1057.6,1556.4 1058.1,1621.8 1058.6,1564.8 1059.2,1594.8 1059.7,1574.3 1060.2,1586.6 1060.8,1588.2 1061.3,1628.9 1061.8,1584.2 1062.4,1511 1062.9,1599.1 1063.4,1626.8 1064,1525.2 1064.5,1566.9 1065,1613.1 1065.6,1539.3 1066.1,1612.7 1066.6,1565 1067.2,1568.7 1067.7,1621.3 1068.2,1588.2 1068.8,1602.5 1069.3,1580.7 1069.8,1546.1 1070.4,1558 1070.9,1618.2 1071.5,1584.4 1072,1603.7 1072.5,1584.4 1073.1,1594.5 1073.6,1599.5 1074.1,1572.9 1074.7,1601.8 1075.2,1583.8 1075.7,1591.1 1076.3,1553 1076.8,1584.9 1077.3,1603.1 1077.9,1613.2 1078.4,1592.6 1078.9,1623.9 1079.5,1547.1 1080,1629.4 1080.5,1578.7 1081.1,1626.6 1081.6,1578.9 1082.1,1546.1 1082.7,1516.1 1083.2,1619.7 1083.7,1579.5 1084.3,1610.5 1084.8,1586.1 1085.3,1600.6 1085.9,1567.8 1086.4,1577.1 1086.9,1524 1087.5,1561 1088,1616.2 1088.5,1591.1 1089.1,1542.5 1089.6,1567.1 1090.1,1584.2 1090.7,1535.7 1091.2,1625.2 1091.7,1593.4 1092.3,1555.1 1092.8,1556.2 1093.3,1612.7 1093.9,1566.5 1094.4,1636.3 1094.9,1617.7 1095.5,1558.3 1096,1613.8 1096.5,1580.4 1097.1,1602.6 1097.6,1572.1 1098.1,1560.2 1098.7,1582.7 1099.2,1616.3 1099.7,1535.3 1100.3,1589.3 1100.8,1640.7 1101.3,1596.9 1101.9,1632.2 1102.4,1553.4 1102.9,1612.2 1103.5,1625.8 1104,1571.7 1104.5,1612.5 1105.1,1527.6 1105.6,1618.9 1106.1,1580.5 1106.7,1600.5 1107.2,1582.7 1107.7,1600.2 1108.3,1611.5 1108.8,1588.8 1109.3,1619 1109.9,1607.1 1110.4,1553.7 1110.9,1614.9 1111.5,1588.8 1112,1534.8 1112.5,1581 1113.1,1563.7 1113.6,1602 1114.1,1626.9 1114.7,1577.3 1115.2,1561.8 1115.8,1604.9 1116.3,1584.4 1116.8,1619.6 1117.4,1641.6 1117.9,1520.5 1118.4,1615 1119,1574.8 1119.5,1629.6 1120,1609.5 1120.6,1572.4 1121.1,1513 1121.6,1536.2 1122.2,1615.2 1122.7,1559.2 1123.2,1578.7 1123.8,1623.1 1124.3,1535.7 1124.8,1611.4 1125.4,1579.7 1125.9,1565.1 1126.4,1618.5 1127,1562.1 1127.5,1610.3 1128,1533.6 1128.6,1595.1 1129.1,1601.1 1129.6,1593.6 1130.2,1544.7 1130.7,1581.9 1131.2,1597.1 1131.8,1570.1 1132.3,1580.5 1132.8,1608.4 1133.4,1581.4 1133.9,1635.5 1134.4,1618.6 1135,1507.1 1135.5,1545.7 1136,1593.4 1136.6,1520.4 1137.1,1598.2 1137.6,1561.7 1138.2,1592.8 1138.7,1543.5 1139.2,1588.2 1139.8,1463.3 1140.3,1574.2 1140.8,1610.5 1141.4,1561.8 1141.9,1627.2 1142.4,1637.1 1143,1595.3 1143.5,1570.9 1144,1588.9 1144.6,1628.3 1145.1,1560.3 1145.6,1609 1146.2,1605.2 1146.7,1583.9 1147.2,1601.4 1147.8,1631 1148.3,1594.8 1148.8,1534.4 1149.4,1584.6 1149.9,1561.8 1150.4,1534.8 1151,1637.6 1151.5,1596.5 1152,1591 1152.6,1518.7 1153.1,1608.5 1153.6,1562.4 1154.2,1606.8 1154.7,1581.2 1155.2,1635.6 1155.8,1565.9 1156.3,1628 1156.8,1572.5 1157.4,1612.3 1157.9,1572.2 1158.4,1625 1159,1574.1 1159.5,1605.8 1160.1,1538.1 1160.6,1578.5 1161.1,1565.3 1161.7,1544.4 1162.2,1583 1162.7,1551.5 1163.3,1565.6 1163.8,1611.9 1164.3,1571 1164.9,1609.3 1165.4,1553.7 1165.9,1635 1166.5,1523.8 1167,1585.1 1167.5,1611 1168.1,1616.8 1168.6,1580.5 1169.1,1610.1 1169.7,1593.1 1170.2,1521 1170.7,1618.4 1171.3,1602.4 1171.8,1554.8 1172.3,1581.4 1172.9,1533 1173.4,1614.4 1173.9,1548.5 1174.5,1622.6 1175,1555.9 1175.5,1560.2 1176.1,1620.4 1176.6,1562.7 1177.1,1609.4 1177.7,1510.5 1178.2,1603.7 1178.7,1565.3 1179.3,1638.5 1179.8,1577.7 1180.3,1572.9 1180.9,1543 1181.4,1628.3 1181.9,1565.5 1182.5,1618.2 1183,1527.5 1183.5,1599.9 1184.1,1574.3 1184.6,1510.2 1185.1,1621.3 1185.7,1572.3 1186.2,1590.5 1186.7,1603.7 1187.3,1580.7 1187.8,1536.4 1188.3,1613.6 1188.9,1607.9 1189.4,1600.4 1189.9,1577.3 1190.5,1556.8 1191,1591.5 1191.5,1582.6 1192.1,1600.3 1192.6,1577.9 1193.1,1585.3 1193.7,1584.5 1194.2,1613.4 1194.7,1579.6 1195.3,1555.1 1195.8,1613.3 1196.3,1632.1 1196.9,1569.3 1197.4,1584 1197.9,1570.9 1198.5,1539 1199,1582.3 1199.5,1597.2 1200.1,1544.2 1200.6,1603.4 1201.1,1573.9 1201.7,1576 1202.2,1582.5 1202.7,1545.3 1203.3,1550.2 1203.8,1614.7 1204.4,1585.1 1204.9,1601.4 1205.4,1560.8 1206,1548.6 1206.5,1600.6 1207,1542.8 1207.6,1551.8 1208.1,1588.8 1208.6,1574.2 1209.2,1615.8 1209.7,1573.2 1210.2,1619.4 1210.8,1599.7 1211.3,1587.8 1211.8,1554 1212.4,1511.2 1212.9,1562.4 1213.4,1591.4 1214,1610.8 1214.5,1559.4 1215,1602.9 1215.6,1556 1216.1,1583.2 1216.6,1540.4 1217.2,1619.9 1217.7,1548.7 1218.2,1614.9 1218.8,1639.4 1219.3,1598.6 1219.8,1553.4 1220.4,1607 1220.9,1591.2 1221.4,1577.7 1222,1623.4 1222.5,1568.7 1223,1608 1223.6,1536.3 1224.1,1550.4 1224.6,1612.8 1225.2,1628.1 1225.7,1544 1226.2,1622.6 1226.8,1559.9 1227.3,1503 1227.8,1622 1228.4,1606.3 1228.9,1561.7 1229.4,1597.2 1230,1610 1230.5,1570.9 1231,1611.4 1231.6,1545.1 1232.1,1600.8 1232.6,1591.1 1233.2,1632.9 1233.7,1519.7 1234.2,1590.8 1234.8,1620.9 1235.3,1584.9 1235.8,1601.9 1236.4,1542.4 1236.9,1612.2 1237.4,1566.9 1238,1604.3 1238.5,1538.6 1239,1603.9 1239.6,1568.5 1240.1,1601.4 1240.6,1551 1241.2,1567 1241.7,1637.5 1242.2,1593.5 1242.8,1520.7 1243.3,1580.5 1243.8,1548.6 1244.4,1624.4 1244.9,1462 1245.4,1549 1246,1588.4 1246.5,1573.6 1247,1615.1 1247.6,1532.7 1248.1,1585.6 1248.7,1604.1 1249.2,1574.7 1249.7,1597.6 1250.3,1556.8 1250.8,1538.4 1251.3,1590.9 1251.9,1613.7 1252.4,1564.5 1252.9,1617.1 1253.5,1596.1 1254,1609.2 1254.5,1574.5 1255.1,1620 1255.6,1608.3 1256.1,1589.9 1256.7,1560.3 1257.2,1554.3 1257.7,1614.4 1258.3,1549.6 1258.6,1610.3 1259.1,1615.6 1259.4,1642.2 1260.1,1578.4 1260.5,1577.4 1261.1,1625.2 1261.7,1589.1 1262.3,1579.5 1262.7,1610.3 1263.3,1530.6 1263.7,1634.2 1264.3,1589.1 1264.9,1623.6 1265.3,1613 1266,1615.6 1266.4,1642.2 1266.9,1642.2 1267.5,1551.8 1268.1,1634.2 1268.5,1541.2 1269,1581.1 1269.7,1562.5 1270.3,1586.4 1270.8,1597 1271.3,1583.7 1271.9,1595.4 1273,1594.4 1273.7,1615.6 1274.5,1618.3 1275,1634.2 1275.4,1634.2 1276.1,1570.4 1277,1620.9 1277.7,1642.2 1278.5,1618.3 1279.3,1607.7 1279.9,1613 1280.7,1607.7 1281.5,1589.1 1281.9,1597 1282.5,1572 1283.6,1628.9 1284.2,1578.4 1284.7,1381.7 1285.1,1557.2 1285.7,1628.9 1286.2,1542.3 1286.8,1562.5 1287.4,1628.9 1287.8,1626.3 1288.3,1545.5 1289.4,1642.2 1289.8,1642.2 1290.5,1610.3 1291.1,1490.7 1291.6,1642.2 1292.1,1642.2 1292.7,1605 1293.2,1084.1 1293.7,1562.5 1294.3,1558.2 1294.8,1602.3 1295.3,1610.3 1295.9,1642.2 1296.7,1589.1 1297.5,1531.6 1298,1554.5 1298.5,1636.9 1299,1573.1 1299.5,1642.2 1300.1,1581.1 1300.7,1572 1301.2,1623.6 1301.8,1393.4 1302.3,1599.7 1302.8,1642.2 1303.4,1642.2 1304.1,1597 1304.6,1589.1 1305,1628.9 1305.4,1562.5 1306.2,1628.9 1306.6,1623.6 1307.1,1642.2 1307.6,1625.2 1308.2,1554.5 1308.7,1627.3 1309.2,1578.4 1309.7,1615.6 1310.3,1493.4 1311,1591.7 1311.5,1619.9 1312.3,1607.7 1312.9,1583.7 1313.5,1557.2 1314,1578.4 1314.6,1522.6 1315.2,1628.9 1315.7,1634.2 1316.1,1607.7 1316.7,1541.2 1317.6,1589.1 1318.4,1628.9 1318.8,1448.2 1319.3,1642.2 1319.8,1583.7 1320.5,1642.2 1321,1589.1 1321.5,1597 1322.1,1578.4 1322.6,1575.8 1323.2,1642.2 1323.7,1589.1 1324.2,1581.1 1324.7,1618.3 1325.3,1615.6 1325.6,1642.2 1326.2,1583.7 1326.9,1642.2 1327.4,1376.4 1327.9,1636.9 1328.4,1559.8 1328.9,1599.7 1329.5,1540.1 1330.1,1562.5 1330.7,1574.2 1331.1,1518.9 1331.7,1578.4 1332.1,1591.7 1332.6,1642.2 1333.3,1613 1333.8,1599.7 1334.4,1607.7 1334.9,1610.3 1335.4,1642.2 1335.8,1084.1 1336.3,1594.4 1337,1642.2 1337.6,1597 1338.1,1583.7 1338.6,1581.1 1339,1642.2 1339.6,1583.7 1340.2,1610.3 1340.6,1618.3 1341.2,1642.2 1341.8,1591.7 1342.3,1613 1342.8,1573.1 1343.5,1562.5 1344,1628.9 1344.5,1339.2 1345,1597 1345.6,1634.2 1346.6,1626.3 1347.1,1534.8 1347.7,1567.8 1348.2,1589.1 1348.7,1642.2 1349.3,1642.2 1349.8,1526.3 1350.3,1578.4 1350.7,1631.6 1351,1642.2 1352,1594.4 1352.5,1610.3 1353.3,1642.2 1354.1,1518.3 1354.6,1642.2 1355.1,1583.7 1355.7,1642.2 1356,1642.2 1356.8,1602.3 1357.3,1605 1357.8,1642.2 1358.4,1597 1358.9,1605 1359.4,1594.4 1359.9,1634.2 1360.5,1625.2 1361.1,1626.3 1361.5,1533.2 1362.1,1610.3 1362.6,1613 1363.7,1594.4 1364.2,1508.2 1364.8,1613 1365.3,1607.7 1365.8,1634.2 1366.3,1567.8 1366.9,1552.9 1367.7,1615.6 1368.2,1642.2 1368.7,1642.2 1369,1583.7 1369.5,1578.4 1369.9,1642.2 1370.6,1513.6 1371.2,1642.2 1371.7,1607.7 1371.9,1552.2 1372.5,1606.3 1373,1608.9 1373.5,1546.9 1374.1,1621.1 1374.6,1558.9 1375.1,1632.7 1375.7,1557.5 1376.2,1580.6 1376.7,1611.1 1377.3,1597.2 1377.8,1617.6 1378.3,1554.6 1378.9,1629.2 1379.4,1563.1 1379.9,1615.1 1380.5,1589.9 1381,1608.8 1381.5,1604.8 1382.1,1583.8 1382.6,1585.5 1383.2,1564.9 1383.7,1604.1 1384.2,1642.7 1384.8,1576.8 1385.3,1621 1385.8,1575 1386.4,1627.7 1386.9,1553.4 1387.4,1586.2 1388,1551.6 1388.5,1624.8 1389,1539.4 1389.6,1616.3 1390.1,1589.7 1390.6,1629.7 1391.2,1587.5 1391.7,1596.9 1392.2,1512.3 1392.8,1615.1 1393.3,1529.9 1393.8,1619.7 1394.4,1572.6 1394.9,1602.8 1395.4,1568.1 1396,1576.7 1396.5,1545.1 1397,1549.9 1397.6,1580.5 1398.1,1549.7 1398.6,1517.1 1399.2,1560.6 1399.7,1620.3 1400.2,1583.3 1400.8,1545.5 1401.3,1597.9 1401.8,1548.9 1402.4,1612 1402.9,1543.3 1403.4,1593.6 1404,1609.6 1404.5,1572.4 1405,1601.9 1405.6,1592.3 1406.1,1558.6 1406.6,1567.1 1407.2,1623.5 1407.7,1583.1 1408.2,1606.1 1408.8,1591.1 1409.3,1526.6 1409.8,1602.8 1410.4,1503.8 1410.9,1611.3 1411.4,1562.4 1412,1619.7 1412.5,1558 1413,1587 1413.6,1559.5 1414.1,1612.8 1414.6,1561.4 1415.2,1624.6 1415.7,1537.6 1416.2,1600.4 1416.8,1600.3 1417.3,1607 1417.8,1568.3 1418.4,1605.7 1418.9,1553.4 1419.4,1612.9 1420,1556 1420.5,1593.9 1421,1562.7 1421.6,1573.4 1422.1,1617.8 1422.6,1598.4 1423.2,1590.9 1423.7,1543.5 1424.2,1538.9 1424.8,1619 1425.3,1564.3 1425.8,1561.5 1426.4,1591.3 1426.9,1591.1 1427.5,1578.8 1428,1557.8 1428.5,1576.3 1429.1,1597.2 1429.6,1562.9 1430.1,1608.1 1430.7,1538.9 1431.2,1624 1431.7,1542.2 1432.3,1618.3 1432.8,1574.2 1433.3,1569.6 1433.9,1611.5 1434.4,1600.4 1434.9,1622.5 1435.5,1631.5 1436,1600.9 1436.5,1584 1437.1,1599 1437.6,1614.6 1438.1,1543.8 1438.7,1578.5 1439.2,1559.8 1439.7,1584.5 1440.3,1575.8 1440.8,1582.7 1441.3,1564.3 1441.9,1584.4 1442.4,1618 1442.9,1582.9 1443.5,1600.2 1444,1606.2 1444.5,1612.2 1445.1,1575.8 1445.6,1607.6 1446.1,1560.4 1446.7,1607.7 1447.2,1628.8 1447.7,1541.8 1448.3,1575.3 1448.8,1588.3 1449.3,1602.1 1449.9,1569.2 1450.4,1591 1450.9,1540.6 1451.5,1611.9 1452,1561.1 1452.5,1522.5 1453.1,1608.4 1453.6,1558.6 1454.1,1601.7 1454.7,1633.9 1455.2,1625.9 1455.7,1619.6 1456.3,1581.1 1456.8,1603 1457.3,1598 1457.9,1621.4 1458.4,1561.5 1458.9,1576.6 1459.5,1586.4 1460,1612.5 1460.5,1575.6 1461.1,1629.5 1461.6,1512.5 1462.1,1545.9 1462.7,1593.1 1463.2,1533.7 1463.7,1498.4 1464.3,1592.7 1464.8,1593.4 1465.3,1554.5 1465.9,1606.9 1466.4,1570.8 1466.9,1599 1467.5,1613.5 1468,1608.9 1468.5,1569 1469.1,1586.8 1469.6,1573 1470.1,1550.4 1470.7,1606 1471.2,1592.2 1471.8,1542.8 1472.3,1614.1 1472.8,1557.1 1473.4,1548 1473.9,1616.3 1474.4,1589.7 1475,1584.9 1475.5,1570.1 1476,1550.7 1476.6,1613.7 1477.1,1578.6 1477.6,1601.3 1478.2,1598 1478.7,1593.4 1479.2,1546.5 1479.8,1626.5 1480.3,1572.1 1480.8,1604.1 1481.4,1566 1481.9,1626.1 1482.4,1603.8 1483,1600.2 1483.5,1633.7 1484,1563 1484.6,1616.3 1485.1,1563.6 1485.6,1581.7 1486.2,1628.8 1486.7,1539.7 1487.2,1583.5 1487.8,1538.4 1488.3,1614.9 1488.8,1637.6 1489.4,1570.9 1489.9,1535.9 1490.4,1614.6 1491,1605.8 1491.5,1557.8 1492,1625.3 1492.6,1565.2 1493.1,1629 1493.6,1604.2 1494.2,1593.1 1494.7,1562.8 1495.2,1568.7 1495.8,1595.8 1496.3,1558.4 1496.8,1621.6 1497.4,1545.2 1497.9,1583.6 1498.4,1587.2 1499,1600.1 1499.5,1502 1500,1602.7 1500.6,1553.3 1501.1,1618 1501.6,1545.4 1502.2,1622.1 1502.7,1597.2 1503.2,1622 1503.8,1628.1 1504.3,1577.6 1504.8,1622.5 1505.4,1572.4 1505.9,1611.1 1506.4,1597.4 1507,1597.5 1507.5,1618.8 1508,1587.5 1508.6,1598.5 1509.1,1549.6 1509.6,1598.8 1510.2,1548.5 1510.7,1597.2 1511.2,1609.1 1511.8,1510.7 1512.3,1580.6 1512.8,1578.2 1513.4,1598.6 1513.9,1596 1514.4,1540.9 1515,1632.5 1515.5,1607.5 1516.1,1574.9 1516.6,1616.7 1517.1,1501.5 1517.7,1605 1518.2,1615.5 1518.7,1528.8 1519.3,1590.4 1519.8,1567.6 1520.3,1593.3 1520.9,1575.8 1521.4,1570.8 1521.9,1614.5 1522.5,1636.3 1523,1501.5 1523.5,1615.5 1524.1,1563.3 1524.6,1539 1525.1,1591 1525.7,1582 1526.2,1606.1 1526.7,1561.7 1527.3,1637.4 1527.8,1568.5 1528.3,1630.5 1528.9,1625.6 1529.4,1559.8 1529.9,1614.1 1530.5,1566 1531,1605.1 1531.5,1589 1532.1,1626 1532.6,1568.5 1533.1,1635.7 1533.7,1569.3 1534.2,1619.5 1534.7,1603.3 1535.3,1588 1535.8,1596.5 1536.3,1609.5 1536.9,1561.5 1537.4,1593.6 1537.9,1608.7 1538.5,1564.1 1539,1626.2 1539.5,1561.8 1540.1,1611.8 1540.6,1531.4 1541.1,1578.9 1541.7,1541.5 1542.2,1618.4 1542.7,1562.7 1543.3,1612.2 1543.8,1545 1544.3,1602.9 1544.9,1583.9 1545.4,1627.4 1545.9,1592.1 1546.5,1535.8 1547,1603.8 1547.5,1530.6 1548.1,1608.9 1548.6,1519.4 1549.1,1606.8 1549.7,1566.9 1550.2,1607.3 1550.7,1596.9 1551.3,1574.2 1551.8,1632.7 1552.3,1584.3 1552.9,1586.9 1553.4,1549.3 1553.9,1568.6 1554.5,1604.5 1555,1572.4 1555.5,1610.7 1556.1,1557.3 1556.6,1627.2 1557.1,1576.3 1557.7,1542.5 1558.2,1593.1 1558.7,1585.9 1559.3,1587.8 1559.8,1592.7 1560.4,1623 1560.9,1627.2 1561.4,1547.6 1562,1554 1562.5,1609.9 1563,1572.8 1563.6,1577.2 1564.1,1563.7 1564.6,1631.9 1565.2,1583.5 1565.7,1601.6 1566.2,1577.3 1566.8,1536.3 1567.3,1611.4 1567.8,1542.7 1568.4,1594.9 1568.9,1479.5 1569.4,1611.5 1570,1628.3 1570.5,1591.9 1571,1578.5 1571.6,1563 1572.1,1639 1572.6,1596.7 1573.2,1626.7 1573.7,1594.9 1574.2,1599.5 1574.8,1505.6 1575.3,1611.2 1575.8,1536.4 1576.4,1578.7 1576.9,1599.6 1577.4,1585.8 1578,1624.7 1578.5,1578.4 1579,1627.7 1579.6,1599.3 1580.1,1567.2 1580.6,1548.5 1581.2,1629.7 1581.7,1592.6 1582.2,1542.5 1582.8,1554.6 1583.3,1594.4 1583.8,1567.1 1584.4,1595.5 1584.9,1635.1 1585.4,1576.6 1586,1610.7 1586.5,1545.9 1587,1573.5 1587.6,1582.5 1588.1,1608.5 1588.6,1595.5 1589.2,1559.6 1589.7,1616.3 1590.2,1606.5 1590.8,1570.7 1591.3,1620.6 1591.8,1541.6 1592.4,1602.2 1592.9,1571.6 1593.4,1617.8 1594,1544.1 1594.5,1595.5 1595,1607.9 1595.6,1592.2 1596.1,1581.5 1596.6,1538.4 1597.2,1595.5 1597.7,1585.8 1598.2,1580.3 1598.8,1598.6 1599.3,1631.1 1599.8,1532.2 1600.4,1633.7 1600.9,1596.1 1601.4,1586.7 1602,1596.8 1602.5,1576.9 1603,1608.7 1603.6,1594 1604.1,1593.6 1604.7,1543.3 1605.2,1562.5 1605.7,1609.7 1606.3,1624.3 1606.8,1572.2 1607.3,1577.1 1607.9,1584.4 1608.4,1540.8 1608.9,1568.8 1609.5,1611 1610,1568.3 1610.5,1620.9 1611.1,1586.3 1611.6,1554.8 1612.1,1589.8 1612.7,1557.1 1613.2,1600.2 1613.7,1567.7 1614.3,1559.5 1614.8,1625.5 1615.3,1565 1615.9,1622.5 1616.4,1575.2 1616.9,1614.7 1617.5,1598 1618,1563 1618.5,1614.5 1619.1,1520.5 1619.6,1621.1 1620.1,1591.4 1620.7,1621 1621.2,1592.3 1621.7,1628.3 1622.3,1600.8 1622.8,1575.8 1623.3,1588.2 1623.9,1551.2 1624.4,1573.2 1624.9,1614.7 1625.5,1573.7 1626,1618.8 1626.5,1557.4 1627.1,1612.3 1627.6,1589 1628.1,1606.7 1628.7,1566 1629.2,1615.5 1629.7,1540.6 1630.3,1578.4 1630.8,1542.8 1631.3,1490.7 1631.9,1617.8 1632.4,1550.6 1632.9,1620.1 1633.5,1569.5 1634,1589.1 1634.5,1511.4 1635.1,1608.1 1635.6,1608.6 1636.1,1554 1636.7,1562 1637.2,1633.1 1637.7,1538.8 1638.3,1602.1 1638.8,1562.1 1639.3,1603.1 1639.9,1596.7 1640.4,1628.5 1640.9,1567.9 1641.5,1609.4 1642,1558.3 1642.5,1621.5 1643.1,1558.9 1643.6,1603.1 1644.1,1554.8 1644.7,1557.3 1645.2,1627.8 1645.7,1571.4 1646.3,1639.4 1646.8,1572.7 1647.3,1593.9 1647.9,1572.8 1648.4,1572.5 1649,1579.1 1649.5,1615.7 1650,1577.3 1650.6,1635.2 1651.1,1630.5 1651.6,1560.6 1652.2,1577.6 1652.7,1612.4 1653.2,1606.5 1653.8,1563 1654.3,1582.5 1654.8,1632.8 1655.4,1570.4 1655.9,1614.4 1656.4,1557.5 1657,1596.5 1657.5,1601.6 1658,1603.7 1658.6,1528.9 1659.1,1565.1 1659.6,1583.9 1660.2,1502 1660.7,1592.4 1661.2,1622.4 1661.8,1570.1 1662.3,1599.3 1662.8,1615 1663.4,1561.4 1663.9,1626.5 1664.4,1570.6 1665,1612.4 1665.5,1575.8 1666,1569.7 1666.6,1604.9 1667.1,1609.1 1667.6,1585.8 1668.2,1585.1 1668.7,1550.7 1669.2,1595.2 1669.8,1573.5 1670.3,1614.2 1670.8,1533.7 1671.4,1549.8 1671.9,1617.2 1672.4,1539.4 1673,1626.5 1673.5,1618 1674,1589.5 1674.6,1591.3 1675.1,1601 1675.6,1607.5 1676.2,1593.1 1676.7,1586.8 1677.2,1577.1 1677.8,1576.8 1678.3,1634.6 1678.8,1544.4 1679.4,1584.6 1679.9,1605.1 1680.4,1597.4 1681,1536.4 1681.5,1615.5 1682,1582.2 1682.6,1570 1683.1,1597 1683.6,1604.1 1684.2,1614.9 1684.7,1548.2 1685.2,1601.4 1685.8,1575.1 1686.3,1553.1 1686.8,1601.6 1687.4,1552.4 1687.9,1637.9 1688.4,1591 1689,1623.6 1689.5,1581.1 1690,1560.9 1690.6,1630.5 1691.1,1604.9 1691.6,1580.1 1692.2,1601.7 1692.7,1609 1693.3,1548.7 1693.8,1603.7 1694.3,1539 1694.9,1611.4 1695.4,1562.3 1695.9,1606.6 1696.5,1569.1 1697,1635.8 1697.5,1564.6 1698.1,1612 1698.6,1511.7 1699.1,1603.8 1699.7,1595 1700.2,1595.5 1700.7,1561.8 1701.3,1577.4 1701.8,1574.1 1702.3,1580.4 1702.9,1559.1 1703.4,1552.7 1703.9,1622.7 1704.5,1554.2 1705,1532.7 1705.5,1603.9 1706.1,1594.3 1706.6,1593.3 1707.1,1536.8 1707.7,1601.1 1708.2,1553.8 1708.7,1595.1 1709.3,1575.6 1709.8,1592.6 1710.3,1617.8 1710.9,1504.1 1711.4,1615.3 1711.9,1555.1 1712.5,1594.3 1713,1611.5 1713.5,1560.9 1714.1,1609.6 1714.6,1629.2 1715.1,1583.2 1715.7,1579.2 1716.2,1545.4 1716.7,1616.9 1717.3,1553.2 1717.8,1592.9 1718.3,1579.4 1718.9,1475.9 1719.4,1561 1719.9,1584 1720.5,1614.5 1721,1593.8 1721.5,1616.2 1722.1,1606.8 1722.6,1577.9 1723.1,1621 1723.7,1592.4 1724.2,1615.7 1724.7,1610.7 1725.3,1576 1725.8,1588.8 1726.3,1609.3 1726.9,1543.8 1727.4,1597.8 1727.9,1560.2 1728.5,1592.8 1729,1632.9 1729.5,1618.8 1730.1,1561 1730.6,1548.6 1731.1,1607.6 1731.7,1574.8 1732.2,1523.3 1732.7,1620.7 1733.3,1560.5 1733.8,1576.9 1734.3,1579.3 1734.9,1597.3 1735.4,1589 1735.9,1605.1 1736.5,1610.7 1737,1581.1 1737.6,1571.3 1738.1,1586.5 1738.6,1579.8 1739.2,1625.4 1739.7,1537.7 1740.2,1527.4 1740.8,1566.9 1741.3,1600.4 1741.8,1609.9 1742.4,1559.4 1742.9,1607.4 1743.4,1559.9 1744,1572 1744.5,1610.8 1745,1586.6 1745.6,1596.6 1746.1,1614.2 1746.6,1585.2 1747.2,1585.1 1747.7,1558.7 1748.2,1571 1748.8,1589 1749.3,1511.2 1749.8,1592.1 1750.4,1597.3 1750.9,1578.4 1751.4,1573.2 1752,1607.6 1752.5,1569.9 1753,1612.5 1753.6,1628.8 1754.1,1575.6 1754.6,1621 1755.2,1558.4 1755.7,1625.5 1756.2,1536.9 1756.8,1592.3 1757.3,1585.5 1757.8,1516.9 1758.4,1580.3 1758.9,1540.9 1759.4,1585.6 1760,1573.9 1760.5,1608.2 1761,1627.1 1761.6,1572.3 1762.1,1589.7 1762.6,1563.8 1763.2,1604.6 1763.7,1574.7 1764.2,1577.4 1764.8,1577.1 1765.3,1581.2 1765.8,1545.2 1766.4,1596.2 1766.9,1532.5 1767.4,1602.9 1768,1509.7 1768.5,1612.4 1769,1600.4 1769.6,1567.5 1770.1,1583.7 1770.6,1546 1771.2,1621.5 1771.7,1543.9 1772.2,1573.4 1772.8,1603.1 1773.3,1546.6 1773.8,1610.6 1774.4,1605.4 1774.9,1596.3 1775.4,1604.5 1776,1605.6 1776.5,1592.6 1777,1562.9 1777.6,1621.7 1778.1,1591.7 1778.6,1575.3 1779.2,1606 1779.7,1540 1780.2,1601.3 1780.8,1560.7 1781.3,1603.8 1781.8,1597.1 1782.4,1600.7 1782.9,1560.9 1783.5,1500 1784,1615.8 1784.5,1577.6 1785.1,1550.2 1785.6,1618.5 1786.1,1570.7 1786.7,1586.3 1787.2,1531.9 1787.7,1619 1788.3,1565.4 1788.8,1636.8 1789.3,1569.7 1789.9,1619 1790.4,1582.1 1790.9,1578.7 1791.5,1555.2 1792,1625.4 1792.5,1564.5 1793.1,1625.6 1793.6,1601.6 1794.1,1512.8 1794.7,1595.2 1795.2,1609.7 1795.7,1622.3 1796.3,1534.3 1796.8,1594.9 1797.3,1610.1 1797.9,1594.3 1798.4,1622.4 1798.9,1576.9 1799.5,1604.6 1800,1539.3 1800.5,1587.9 1801.1,1598.4 1801.6,1630.8 1802.1,1573.5 1802.7,1578.8 1803.2,1544.6 1803.7,1608.8 1804.3,1549.4 1804.8,1592.2 1805.3,1605.8 1805.9,1555.4 1806.4,1625.9 1806.9,1520.5 1807.5,1571.7 1808,1622.6 1808.5,1576.1 1809.1,1594.7 1809.6,1582.5 1810.1,1598.7 1810.7,1543.4 1811.2,1611.6 1811.7,1557.7 1812.3,1559.2 1812.8,1586.1 1813.3,1554.1 1813.9,1554.3 1814.4,1600.4 1814.9,1487.1 1815.5,1638.2 1816,1524.4 1816.5,1583.3 1817.1,1615.1 1817.6,1572.6 1818.1,1605.5 1818.7,1581.7 1819.2,1558.5 1819.7,1609.2 1820.3,1611.5 1820.8,1578.1 1821.3,1625 1821.9,1615.6 1822.4,1598.9 1822.9,1588.1 1823.5,1607.5 1824,1567 1824.5,1610.8 1825.1,1595.8 1825.6,1562.3 1826.1,1552.5 1826.7,1588.1 1827.2,1598.7 1827.8,1568.1 1828.3,1635.4 1828.8,1621.6 1829.4,1578.8 1829.9,1538.7 1830.4,1585.8 1831,1594.5 1831.5,1607.3 1832,1589.5 1832.6,1577.3 1833.1,1559.4 1833.6,1583.2 1834.2,1577.2 1834.7,1567.5 1835.2,1620.1 1835.8,1556.3 1836.3,1603.4 1836.8,1542.5 1837.4,1588.9 1837.9,1544.4 1838.4,1595.8 1839,1625 1839.5,1609.6 1840,1600 1840.6,1605.6 1841.1,1538 1841.6,1524.8 1842.2,1594.1 1842.7,1610.5 1843.2,1565.4 1843.8,1632.7 1844.3,1550.5 1844.8,1600.8 1845.4,1533.9 1845.9,1585.5 1846.4,1613.3 1847,1595.5 1847.5,1537.4 1848,1536.8 1848.6,1585 1849.1,1584.9 1849.6,1604.5 1850.2,1634.9 1850.7,1536.9 1851.2,1601.3 1851.8,1535.5 1852.3,1529.5 1852.8,1594.6 1853.4,1601.2 1853.9,1617.5 1854.4,1607.5 1855,1490.5 1855.5,1603.5 1856,1580.4 1856.6,1600.6 1857.1,1565.3 1857.6,1594.3 1858.2,1609.9 1858.7,1553.8 1859.2,1630.1 1859.8,1632.5 1860.3,1588.7 1860.8,1591.1 1861.4,1575.5 1861.9,1613.9 1862.4,1597.2 1863,1568 1863.5,1583.5 1864,1567.6 1864.6,1581.9 1865.1,1610.7 1865.6,1560.4 1866.2,1626.9 1866.7,1562.5 1867.2,1610.3 1867.8,1588.5 1868.3,1599.4 1868.8,1583.2 1869.4,1561.5 1869.9,1580.3 1870.4,1599.3 1871,1543.1 1871.5,1610.8 1872.1,1557.5 1872.6,1635.5 1873.1,1614.5 1873.7,1583.3 1874.2,1597.2 1874.7,1551 1875.3,1626.1 1875.8,1600.6 1876.3,1598.2 1876.9,1554.7 1877.4,1557.8 1877.9,1598.6 1878.5,1539.2 1879,1550.9 1879.5,1588.9 1880.1,1640.5 1880.6,1621.4 1881.1,1586.5 1881.7,1570.7 1882.2,1596.2 1882.7,1557.3 1883.3,1569.7 1883.8,1591.5 1884.3,1630.9 1884.9,1570.3 1885.4,1614.6 1885.9,1564.4 1886.5,1613.3 1887,1551.3 1887.5,1630.8 1888.1,1539 1888.6,1592.2 1889.1,1592.6 1889.7,1565.1 1890.2,1601.7 1890.7,1538.7 1891.3,1543.3 1891.8,1630.6 1892.3,1559.9 1892.9,1625.8 1893.4,1560 1893.9,1571.2 1894.5,1594.2 1895,1614.2 1895.5,1540.4 1896.1,1516.1 1896.6,1587.7 1897.1,1601.4 1897.7,1569.4 1898.2,1611.3 1898.7,1551.3 1899.3,1571.7 1899.8,1586.9 1900.3,1613.3 1900.9,1581.5 1901.4,1616.1 1901.9,1597.6 1902.5,1598.7 1903,1588.5 1903.5,1599.6 1904.1,1541.2 1904.6,1632.9 1905.1,1625.7 1905.7,1563.3 1906.2,1591.5 1906.7,1611.3 1907.3,1584.4 1907.8,1563.5 1908.3,1621.7 1908.9,1561.6 1909.4,1582.4 1909.9,1550.4 1910.5,1625.4 1911,1587.2 1911.5,1587.4 1912.1,1580.7 1912.6,1586.6 1913.1,1606.9 1913.7,1571.8 1914.2,1602.7 1914.7,1625.9 1915.3,1562.1 1915.8,1609.4 1916.4,1549.3 1916.9,1606 1917.4,1643.1 1918,1591.4 1918.5,1637.4 1919,1542.4 1919.6,1610.2 1920.1,1567 1920.6,1512.8 1921.2,1608.8 1921.7,1568.5 1922.2,1602 1922.8,1542.1 1923.3,1578.9 1923.8,1625 1924.4,1574.2 1924.9,1604.4 1925.4,1596 1926,1545.4 1926.5,1615.5 1927,1583.1 1927.6,1625.4 1928.1,1557.9 1928.6,1623.8 1929.2,1561.5 1929.7,1600.7 1930.2,1566.2 1930.8,1515.8 1931.3,1535.8 1931.8,1590.2 1932.4,1548 1932.9,1603.3 1933.4,1597.7 1934,1625.9 1934.5,1591.7 1935,1523.8 1935.6,1580.3 1936.1,1546.1 1936.6,1623 1937.2,1546.9 1937.7,1539.9 1938.2,1616.6 1938.8,1626.9 1939.3,1550.5 1939.8,1627.8 1940.4,1574.9 1940.9,1599.5 1941.4,1547.8 1942,1586.2 1942.5,1609.3 1943,1600.8 1943.6,1560.8 1944.1,1593.9 1944.6,1602.2 1945.2,1566.3 1945.7,1601.3 1946.2,1554.5 1946.8,1616.8 1947.3,1577.2 1947.8,1604.6 1948.4,1588.1 1948.9,1541.6 1949.4,1612.2 1950,1614.4 1950.5,1560.5 1951,1579.6 1951.6,1558.2 1952.1,1546.9 1952.6,1607.4 1953.2,1613.3 1953.7,1581.2 1954.2,1569.9 1954.8,1581.2 1955.3,1583.4 1955.8,1617.3 1956.4,1617.5 1956.9,1598.1 1957.4,1595.4 1958,1594.7 1958.5,1558.6 1959,1551.5 1959.6,1597.2 1960.1,1577.8 1960.7,1593.4 1961.2,1610.3 1961.7,1634.2 1962.3,1565.9 1962.8,1526.6 1963.3,1551.1 1963.9,1606.1 1964.4,1597.1 1964.9,1544 1965.5,1616.3 1966,1570.8 1966.5,1536.2 1967.1,1600.7 1967.6,1547 1968.1,1550.5 1968.7,1613.5 1969.2,1578.3 1969.7,1619.9 1970.3,1592.8 1970.8,1601.1 1971.3,1618.9 1971.9,1555.5 1972.4,1605.4 1972.9,1562.5 1973.5,1564.9 1974,1628.5 1974.5,1607.9 1975.1,1584.9 1975.6,1612.7 1976.1,1617.4 1976.7,1596.7 1977.2,1582.8 1977.7,1549.8 1978.3,1566.7 1978.8,1586.8 1979.3,1569.3 1979.9,1589.3 1980.4,1596.5 1980.9,1616.2 1981.5,1601.2 1982,1497.9 1982.5,1611.8 1983.1,1620.6 1983.6,1585.8 1984.1,1612.2 1984.7,1563.5 1985.2,1603 1985.7,1507.6 1986.3,1606.1 1986.8,1554.6 1987.3,1575.9 1987.9,1595 1988.4,1543.8 1988.9,1603 1989.5,1624.3 1990,1538.6 1990.5,1593.3 1991.1,1560.9 1991.6,1501.7 1992.1,1627.3 1992.7,1529 1993.2,1625.1 1993.7,1570.5 1994.3,1608.5 1994.8,1621.1 1995.3,1566.1 1995.9,1583.7 1996.4,1600.6 1996.9,1589.2 1997.5,1567.5 1998,1603.8 1998.5,1570 1999.1,1610.3 1999.6,1557.8 2000.1,1601.6 2000.7,1572.2 2001.2,1614.7 2001.7,1618.5 2002.3,1593.6 2002.8,1608.7 2003.3,1579 2003.9,1565.8 2004.4,1577.9 2005,1620.3 2005.5,1569.8 2006,1579 2006.6,1613.1 2007.1,1531.6 2007.6,1596.9 2008.2,1573.5 2008.7,1629.8 2009.2,1568.8 2009.8,1625.2 2010.3,1545.5 2010.8,1555.9 2011.4,1613.8 2011.9,1615.1 2012.4,1597.7 2013,1608.3 2013.5,1544.4 2014,1604.1 2014.6,1549.6 2015.1,1624.3 2015.6,1553.2 2016.2,1610.3 2016.7,1529.9 2017.2,1576.7 2017.8,1612.4 2018.3,1580.2 2018.8,1637.2 2019.4,1584.3 2019.9,1571.3 2020.4,1592.4 2021,1611.2 2021.5,1536.4 2022,1606.2 2022.6,1611.2 2023.1,1594.8 2023.6,1577.5 2024.2,1632.1 2024.7,1590.1 2025.2,1605.9 2025.8,1553.5 2026.3,1603.5 2026.8,1611.8 2027.4,1593.6 2027.9,1585.1 2028.4,1564.9 2029,1592.4 2029.5,1614.2 2030,1587.1 2030.6,1621.3 2031.1,1633.9 2031.6,1599.5 2032.2,1580.2 2032.7,1570 2033.2,1618.9 2033.8,1582.5 2034.3,1530.8 2034.8,1610 2035.4,1527.6 2035.9,1582 2036.4,1580.7 2037,1579.1 2037.5,1556.1 2038,1537.7 2038.6,1600.8 2039.1,1575.5 2039.6,1574.3 2040.2,1608.6 2040.7,1617.3 2041.2,1573.9 2041.8,1604.4 2042.3,1599 2042.8,1595.6 2043.4,1599.8 2043.9,1591.4 2044.4,1618.8 2045,1573.6 2045.5,1603.6 2046,1576 2046.6,1634.9 2047.1,1587.4 2047.6,1589.5 2048.2,1633 2048.7,1582.2 2049.3,1585.5 2049.8,1591.9 2050.3,1595.2 2050.9,1598.9 2051.4,1616.5 2051.9,1583.3 2052.5,1596.2 2053,1591.6 2053.5,1553.7 2054.1,1569.9 2054.6,1607.7 2055.1,1568.2 2055.7,1618.3 2056.2,1571.8 2056.7,1561.1 2057.3,1595.9 2057.8,1601.2 2058.3,1593.5 2058.9,1617.3 2059.4,1604.2 2059.9,1556.2 2060.5,1538.8 2061,1619.6 2061.5,1570.8 2062.1,1593.1 2062.6,1559.9 2063.1,1541 2063.7,1581.9 2064.2,1594.9 2064.7,1592.8 2065.3,1556.3 2065.8,1587.6 2066.3,1595.6 2066.9,1602.2 2067.4,1556.5 2067.9,1610.4 2068.5,1621.2 2069,1612 2069.5,1574.3 2070.1,1604.2 2070.6,1570.4 2071.1,1582.6 2071.7,1617.8 2072.2,1558.4 2072.7,1632.1 2073.3,1575.7 2073.8,1601 2074.3,1551.7 2074.9,1578.6 2075.4,1568.8 2075.9,1577.1 2076.5,1605.5 2077,1540.6 2077.5,1604.4 2078.1,1583 2078.6,1615.5 2079.1,1611.4 2079.7,1519.9 2080.2,1619.5 2080.7,1550.5 2081.3,1558 2081.8,1592.7 2082.3,1566.6 2082.9,1571.3 2083.4,1604.7 2083.9,1630.1 2084.5,1595.7 2085,1583.1 2085.5,1575.6 2086.1,1577.3 2086.6,1617 2087.1,1570.6 2087.7,1601.3 2088.2,1557.3 2088.7,1611.1 2089.3,1617 2089.8,1513 2090.3,1624 2090.9,1599.3 2091.4,1604.3 2091.9,1558.9 2092.5,1619.3 2093,1553.6 2093.6,1590.3 2094.1,1590.6 2094.6,1614.5 2095.2,1517.6 2095.7,1607.9 2096.2,1484.1 2096.8,1590.5 2097.3,1575.7 2097.8,1588.3 2098.4,1570.1 2098.9,1602.3 2099.4,1551.2 2100,1619.5 2100.5,1584.1 2101,1629.3 2101.6,1531.4 2102.1,1604.6 2102.6,1523.8 2103.2,1634.2 2103.7,1626.3 2104.2,1591.4 2104.8,1578.6 2105.3,1587.1 2105.8,1617.8 2106.4,1570.6 2106.9,1639.4 2107.4,1548.8 2108,1591.2 2108.5,1606.9 2109,1551.7 2109.6,1608.5 2110.1,1535.7 2110.6,1632.8 2111.2,1611.5 2111.7,1581.1 2112.2,1557.4 2112.8,1581.8 2113.3,1631.6 2113.8,1611.9 2114.4,1591.4 2114.9,1581.7 2115.4,1537.3 2116,1536.3 2116.5,1601.5 2117,1558.8 2117.6,1583.5 2118.1,1610 2118.6,1603.9 2119.2,1540.6 2119.7,1609.7 2120.2,1610.1 2120.8,1627.2 2121.3,1541.4 2121.8,1623 2122.4,1532.1 2122.9,1625.3 2123.4,1594.5 2124,1570.1 2124.5,1602.7 2125,1490.5 2125.6,1619.6 2126.1,1545.5 2126.6,1591 2127.2,1604.5 2127.7,1601.3 2128.2,1554.2 2128.8,1617.1 2129.3,1533.2 2129.8,1613 2130.4,1516.9 2130.9,1612.6 2131.4,1552.3 2132,1609.6 2132.5,1613.7 2133,1590.5 2133.6,1579.2 2134.1,1622.7 2134.6,1560.8 2135.2,1611 2135.7,1556.5 2136.2,1619.4 2136.8,1615 2137.3,1566.4 2137.9,1587.3 2138.4,1623.4 2138.9,1580.7 2139.5,1538.4 2140,1628.9 2140.5,1538 2141.1,1579.1 2141.6,1626.9 2142.1,1605.3 2142.7,1575.7 2143.2,1591.7 2143.7,1620.5 2144.3,1548 2144.8,1621.8 2145.3,1557.1 2145.9,1585.8 2146.4,1589 2146.9,1576.1 2147.5,1588.9 2148,1624.4 2148.5,1628 2149.1,1586.5 2149.6,1604.8 2150.1,1586.1 2150.7,1588.1 2151.2,1619.5 2151.7,1552 2152.3,1563.3 2152.8,1606.7 2153.3,1619.2 2153.9,1566.3 2154.4,1596.7 2154.9,1586.1 2155.5,1525.1 2156,1608.1 2156.5,1573.5 2157.1,1609.7 2157.6,1559.1 2158.1,1618 2158.7,1609.1 2159.2,1595.8 2159.7,1585.6 2160.3,1620 2160.8,1616.1 2161.3,1544.2 2161.9,1571.1 2162.4,1613.8 2162.9,1485.9 2163.5,1612 2164,1548.2 2164.5,1617.8 2165.1,1532.2 2165.6,1533.7 2166.1,1590.1 2166.7,1570 2167.2,1625.3 2167.7,1562.4 2168.3,1606.6 2168.8,1576.1 2169.3,1623 2169.9,1571.3 2170.4,1598.7 2170.9,1545.8 2171.5,1622.9 2172,1510.2 2172.5,1588.4 2173.1,1611.1 2173.6,1574.5 2174.1,1599.6 2174.7,1601.5 2175.2,1556.9 2175.7,1612.1 2176.3,1603.7 2176.8,1551.7 2177.3,1599.4 2177.9,1613.5 2178.4,1553.7 2178.9,1617.3 2179.5,1608.5 2180,1583.2 2180.5,1546 2181.1,1613.8 2181.6,1528 2182.1,1603.5 2182.7,1573.1 2183.2,1586.3 2183.8,1595.9 2184.3,1505.6 2184.8,1620.1 2185.4,1562 2185.9,1598 2186.4,1632.7 2187,1539 2187.5,1555.5 2188,1622 2188.6,1563.3 2189.1,1604.3 2189.6,1607.1 2190.2,1576.1 2190.7,1623.2 2191.2,1582.5 2191.8,1602 2192.3,1553.7 2192.8,1629.7 2193.4,1569.4 2193.9,1619.2 2194.4,1593.7 2195,1559.6 2195.5,1640.5 2196,1522.3 2196.6,1611.8 2197.1,1492.8 2197.6,1559.4 2198.2,1597 2198.7,1596.7 2199.2,1609 2199.8,1560.8 2200.3,1597 2200.8,1633.8 2201.4,1566 2201.9,1597.3 2202.4,1619.6 2203,1604.3 2203.5,1533.6 2204,1614.6 2204.6,1583.3 2205.1,1605.8 2205.6,1621 2206.2,1585.5 2206.7,1597.7 2207.2,1622.4 2207.8,1540.6 2208.3,1574.4 2208.8,1608.5 2209.4,1559.7 2209.9,1632.6 2210.4,1598.1 2211,1593.7 2211.5,1617.2 2212,1584.9 2212.6,1603.2 2213.1,1583.2 2213.6,1597.1 2214.2,1550.4 2214.7,1597 2215.2,1593.4 2215.8,1550.8 2216.3,1616.1 2216.8,1562.3 2217.4,1610.3 2217.9,1570.8 2218.4,1601.6 2219,1520.5 2219.5,1598.4 2220,1612.4 2220.6,1602.1 2221.1,1576.8 2221.6,1623.1 2222.2,1615.1 2222.7,1548.4 2223.2,1620.5 2223.8,1550.8 2224.3,1599 2224.8,1594.3 2225.4,1611.1 2225.9,1588.3 2226.4,1611.8 2227,1620 2227.5,1552.3 2228.1,1589.1 2228.6,1603.3 2229.1,1596.7 2229.7,1626.9 2230.2,1525.6 2230.7,1549.3 2231.3,1572.2 2231.8,1623.8 2232.3,1583.1 2232.9,1633.6 2233.4,1570.6 2233.9,1621.9 2234.5,1573.6 2235,1595.1 2235.5,1626 2236.1,1631 2236.6,1576.6 2237.1,1566.3 2237.7,1620.8 2238.2,1541.6 2238.7,1608.7 2239.3,1545.9 2239.8,1494.1 2240.3,1567.5 2240.9,1621.9 2241.4,1556.5 2241.9,1620.1 2242.5,1610.5 2243,1561.3 2243.5,1581 2244.1,1633.5 2244.6,1543.9 2245.1,1572 2245.7,1600.2 2246.2,1571.1 2246.7,1575.9 2247.3,1639.9 2247.8,1609.4 2248.3,1561.2 2248.9,1584.8 2249.4,1594.6 2249.9,1591.6 2250.5,1560.6 2251,1602.6 2251.5,1543.7 2252.1,1626.9 2252.6,1566.5 2253.1,1523.8 2253.7,1576.6 2254.2,1621.9 2254.7,1585.4 2255.3,1557.9 2255.8,1634.6 2256.3,1578.4 2256.9,1606.8 2257.4,1545.4 2257.9,1601 2258.5,1584.3 2259,1534.5 2259.5,1605.7 2260.1,1581.4 2260.6,1612.2 2261.1,1546.5 2261.7,1494.8 2262.2,1543.9 2262.7,1630.1 2263.3,1552 2263.8,1619.7 2264.3,1564.3 2264.9,1568 2265.4,1613.7 2265.9,1612.7 2266.5,1572.7 2267,1574 2267.5,1615.8 2268.1,1614.3 2268.6,1587.6 2269.1,1560.7 2269.7,1590.3 2270.2,1601.4 2270.7,1531.3 2271.3,1560.1 2271.8,1596.9 2272.4,1551.7 2272.9,1585.5 2273.4,1623.2 2274,1588 2274.5,1564.5 2275,1567.5 2275.6,1583.4 2276.1,1598.6 2276.6,1580.3 2277.2,1593.6 2277.7,1630.5 2278.2,1594.7 2278.8,1595.7 2279.3,1511.7 2279.8,1595.2 2280.4,1605.6 2280.9,1579.3 2281.4,1569.7 2282,1617.9 2282.5,1554.3 2283,1601.9 2283.6,1574.2 2284.1,1621.5 2284.6,1562.6 2285.2,1578.6 2285.7,1562.2 2286.2,1606 2286.8,1586.1 2287.3,1620 2287.8,1565.2 2288.4,1616.4 2288.9,1551.3 2289.4,1570 2290,1581.7 2290.5,1598.4 2291,1568.1 2291.6,1555.5 2292.1,1580 2292.6,1577.8 2293.2,1608.2 2293.7,1578.3 2294.2,1604.4 2294.8,1612.8 2295.3,1557.1 2295.8,1556 2296.4,1608.3 2296.9,1615.2 2297.4,1548.4 2298,1610.4 2298.5,1582.3 2299,1621.6 2299.6,1571.5 2300.1,1602.3 2300.6,1572.5 2301.2,1608.3 2301.7,1584.1 2302.2,1614.9 2302.8,1573.3 2303.3,1618.5 2303.8,1571.6 2304.4,1580.3 2304.9,1548.7 2305.4,1577.7 2306,1576.4 2306.5,1527.9 2307,1615.4 2307.6,1634.2 2308.1,1564.3 2308.6,1620.1 2309.2,1562.1 2309.7,1615.7 2310.2,1587.9 2310.8,1571.9 2311.3,1623.9 2311.8,1561.7 2312.4,1564.9 2312.9,1627 2313.4,1601.9 2314,1591.2 2314.5,1534 2315,1596.4 2315.6,1565.6 2316.1,1575.8 2316.7,1622.9 2317.2,1573.4 2317.7,1617.7 2318.3,1582.7 2318.8,1575.7 2319.3,1639.6 2319.9,1533 2320.4,1557.1 2320.9,1580 2321.5,1571.8 2322,1577.7 2322.5,1603.3 2323.1,1591.1 2323.6,1578.1 2324.1,1595.8 2324.7,1490.7 2325.2,1614 2325.7,1578 2326.3,1550 2326.8,1588.9 2327.3,1572.1 2327.9,1567 2328.4,1627 2328.9,1576.3 2329.5,1613.8 2330,1635.2 2330.5,1494.8 2331.1,1636.1 2331.6,1541.4 2332.1,1601.8 2332.7,1567 2333.2,1601.3 2333.7,1596.5 2334.3,1620.6 2334.8,1580.1 2335.3,1589.3 2335.9,1624.8 2336.4,1555.8 2336.9,1614.1 2337.5,1573.8 2338,1613.1 2338.5,1568.5 2339.1,1595.7 2339.6,1580.6 2340.1,1559.6 2340.7,1593.2 2341.2,1538.6 2341.7,1614.3 2342.3,1585.2 2342.8,1555.6 2343.3,1604.6 2343.9,1536.6 2344.4,1602.5 2344.9,1569.9 2345.5,1617.5 2346,1536.9 2346.5,1585.7 2347.1,1622.3 2347.6,1562 2348.1,1606.9 2348.7,1588.1 2349.2,1566.3 2349.7,1621 2350.3,1570.2 2350.8,1567.1 2351.3,1618.3 2351.9,1619.1 2352.4,1578.1 2352.9,1586.9 2353.5,1613.4 2354,1533.4 2354.5,1605 2355.1,1537 2355.6,1554.7 2356.1,1610.1 2356.7,1618.9 2357.2,1563.8 2357.7,1538.9 2358.3,1587.5 2358.8,1554.4 2359.3,1612.3 2359.9,1575.1 2360.4,1494.6 2361,1611.8 2361.5,1563.5 2362,1579.6 2362.6,1543 2363.1,1617 2363.6,1587.8 2364.2,1617.3 2364.7,1599.8 2365.2,1563.6 2365.8,1622.7 2366.3,1611.7 2366.8,1567.4 2367.4,1557.4 2367.9,1622.3 2368.4,1570.2 2369,1568.5 2369.5,1588 2370,1596.2 2370.6,1599.9 2371.1,1555.1 2371.6,1610.7 2372.2,1494.8 2372.7,1611.8 2373.2,1566 2373.8,1616.2 2374.3,1556.9 2374.8,1590.7 2375.4,1554.2 2375.9,1590.1 2376.4,1544 2377,1619.7 2377.5,1562.2 2378,1576.6 2378.6,1587.4 2379.1,1538.1 2379.6,1623.1 2380.2,1513.3 2380.7,1584.4 2381.2,1568.3 2381.8,1620.1 2382.3,1554.3"/>
<text class="m" x="459.8" y="1747.4">-10</text>
<text class="m" x="885.2" y="1747.4">-5</text>
<text class="m" x="1315.1" y="1747.4">0</text>
<text class="m" x="1742" y="1747.4">5</text>
<text class="m" x="2168.9" y="1747.4">10</text>
<text class="e" x="219.4" y="1671.1">0</text>
<text class="e" x="219.4" y="1390.7">0.5</text>
<text class="e" x="219.4" y="1110.4">1</text>
<text class="m" transform="translate(81.2 1364.9) rotate(-90) scale(1 0.95)">Normalized Amplitude</text>
<text class="m" transform="translate(1313.2 1848.3) scale(1 0.95)">Frequency(Hz)</text>
<text class="m" transform="translate(1314 1941.9) scale(1 0.95)">(b)</text>
<rect x="1257.4" y="1094" width="112.6" height="530.5" fill="none" stroke="#000" stroke-width="7.7"/>
<circle cx="1380.6" cy="1097.5" r="10.8" fill="#000"/>
<circle cx="1378.9" cy="1618.4" r="10.8" fill="#000"/>
<g id="inset">
<rect x="1635.2" y="1197.3" width="658.6" height="196.6" fill="#fff" stroke="none"/>
<rect class="iax" x="1635.2" y="1197.3" width="658.6" height="196.6"/>
<path class="iax" d="M1715.6 1393.9v-10.8 M1715.6 1197.3v10.8 M1964.2 1393.9v-10.8 M1964.2 1197.3v10.8 M2212.6 1393.9v-10.8 M2212.6 1197.3v10.8 M1635.2 1297.5h10.5 M2293.8 1297.5h-10.5"/>
<path d="M1380.6 1097.5 Q1490 1137.4 1600 1185.2" fill="none" stroke="#000" stroke-width="7" stroke-dasharray="4.8 14.9" stroke-dashoffset="-9.2"/>
<path d="M1378.9 1618.4 L1602 1421.5" fill="none" stroke="#000" stroke-width="7" stroke-dasharray="4.8 14.9" stroke-dashoffset="-9.6"/>
<path d="M1601.2 1157.6 L1635.5 1194.6 Q1637.8 1197.2 1635.6 1200.1 L1616 1200.9 Q1600 1201.8 1583.6 1204.2 L1583.3 1201.4 Q1591 1194.5 1596 1188.5 Q1603.4 1178 1600 1159 Z" fill="#000"/>
<path d="M1584.2 1404.5 L1631.8 1390.5 Q1638.2 1389.4 1637.4 1393.5 L1617.6 1439.8 Q1616.4 1441.8 1615.2 1439.6 Q1612.5 1424 1604 1416 Q1596 1409.5 1584.2 1404.5 Z" fill="#000"/>
<polyline class="isig" points="1635.4,1381.8 1638.2,1383.7 1640.1,1393 1643.8,1370.6 1646.6,1370.3 1649.8,1387 1653.1,1374.4 1656.8,1371 1659.3,1381.8 1662.4,1353.8 1665.2,1390.2 1668.6,1374.4 1671.8,1386.5 1674.6,1382.7 1678.3,1383.7 1680.5,1393 1683.9,1393 1687,1361.3 1690.4,1390.2 1693.2,1357.6 1696,1371.6 1700.1,1365 1703.4,1373.4 1706.2,1377.1 1709,1372.5 1712.8,1376.6 1719.3,1376.2 1723,1383.7 1727.7,1384.6 1730.5,1390.2 1733.3,1390.2 1737,1367.8 1742.6,1385.5 1746.7,1393 1751,1384.6 1755.6,1380.9 1759.4,1382.7 1764,1380.9 1768.3,1374.4 1770.9,1377.1 1774.3,1368.4 1780.8,1388.3 1784.5,1370.6 1787,1301.7 1789.7,1363.2 1792.9,1388.3 1795.7,1357.9 1799.4,1365 1803.2,1388.3 1805,1387.4 1808.4,1359.1 1814.4,1393 1817.1,1393 1821.2,1381.8 1824.6,1339.9 1827.4,1393 1830.2,1393 1833.9,1379.9 1836.7,1197.3 1839.9,1365 1843.2,1363.5 1846,1379 1848.8,1381.8 1852.6,1393 1857.2,1374.4 1861.9,1354.2 1864.7,1362.2 1867.8,1391.1 1870.6,1368.8 1873.4,1393 1876.8,1371.6 1880.5,1368.4 1883.3,1386.5 1886.5,1305.8 1889.8,1378.1 1892.6,1393 1896.4,1393 1900.1,1377.1 1902.9,1374.4 1905.1,1388.3 1907.9,1365 1912.2,1388.3 1915,1386.5 1917.8,1393 1920.6,1387 1924,1362.2 1927.1,1387.8 1929.9,1370.6 1932.7,1383.7 1936.4,1340.8 1940.2,1375.3 1943,1385.2 1947.6,1380.9 1951.4,1372.5 1955.1,1363.2 1957.9,1370.6 1961.5,1351.1 1964.7,1388.3 1967.5,1390.2 1970.3,1380.9 1973.4,1357.6 1978.6,1374.4 1983.3,1388.3 1985.7,1325 1988.5,1393 1991.3,1372.5 1995.4,1393 1998.6,1374.4 2001.4,1377.1 2004.7,1370.6 2008.1,1369.7 2011.3,1393 2014.4,1374.4 2017.2,1371.6 2020,1384.6 2023.4,1383.7 2025.6,1393 2029,1372.5 2032.7,1393 2035.7,1299.8 2038.7,1391.1 2041.5,1364.1 2044.8,1378.1 2048,1357.2 2051.3,1365 2055.1,1369.1 2057.5,1349.7 2060.7,1370.6 2063.4,1375.3 2066.2,1393 2070,1382.7 2073.1,1378.1 2076.5,1380.9 2079.7,1381.8 2082.1,1393 2084.9,1197.3 2087.7,1376.2 2091.4,1393 2095.1,1377.1 2097.9,1372.5 2101.1,1371.6 2103.5,1393 2106.7,1372.5 2110,1381.8 2112.8,1384.6 2116.2,1393 2119.4,1375.3 2122.7,1382.7 2125.5,1368.8 2129.2,1365 2132.4,1388.3 2135.2,1286.7 2138.4,1377.1 2141.7,1390.2 2147.3,1387.4 2150.5,1355.3 2153.8,1366.9 2156.6,1374.4 2159.8,1393 2163.2,1393 2166,1352.4 2169.1,1370.6 2171.6,1389.3 2173.4,1393 2179,1376.2 2182.2,1381.8 2186.5,1393 2191.1,1349.6 2193.9,1393 2197.1,1372.5 2200.4,1393 2202.3,1393 2207,1379 2209.8,1379.9 2212.6,1393 2216.3,1377.1 2219.1,1379.9 2222.3,1376.2 2225.1,1390.2 2228.4,1387 2232.1,1387.4 2234.6,1354.8 2237.7,1381.8 2240.5,1382.7 2247,1376.2 2250.2,1346 2253.6,1382.7 2256.4,1380.9 2259.2,1390.2 2262.3,1366.9 2265.7,1361.7 2270.3,1383.7 2273.1,1393 2275.9,1393 2277.8,1372.5 2281,1370.6 2283.4,1393 2287.5,1347.9 2290.8,1393 2293.6,1380.9"/>
<text class="e" x="1603.5" y="1324.6">0.5</text>
<text class="m" x="1711.5" y="1497">-0.5</text>
<text class="m" x="1964" y="1497">0</text>
<text class="m" x="2212" y="1497">0.5</text>
</g>
</g>
</svg></body></html>
